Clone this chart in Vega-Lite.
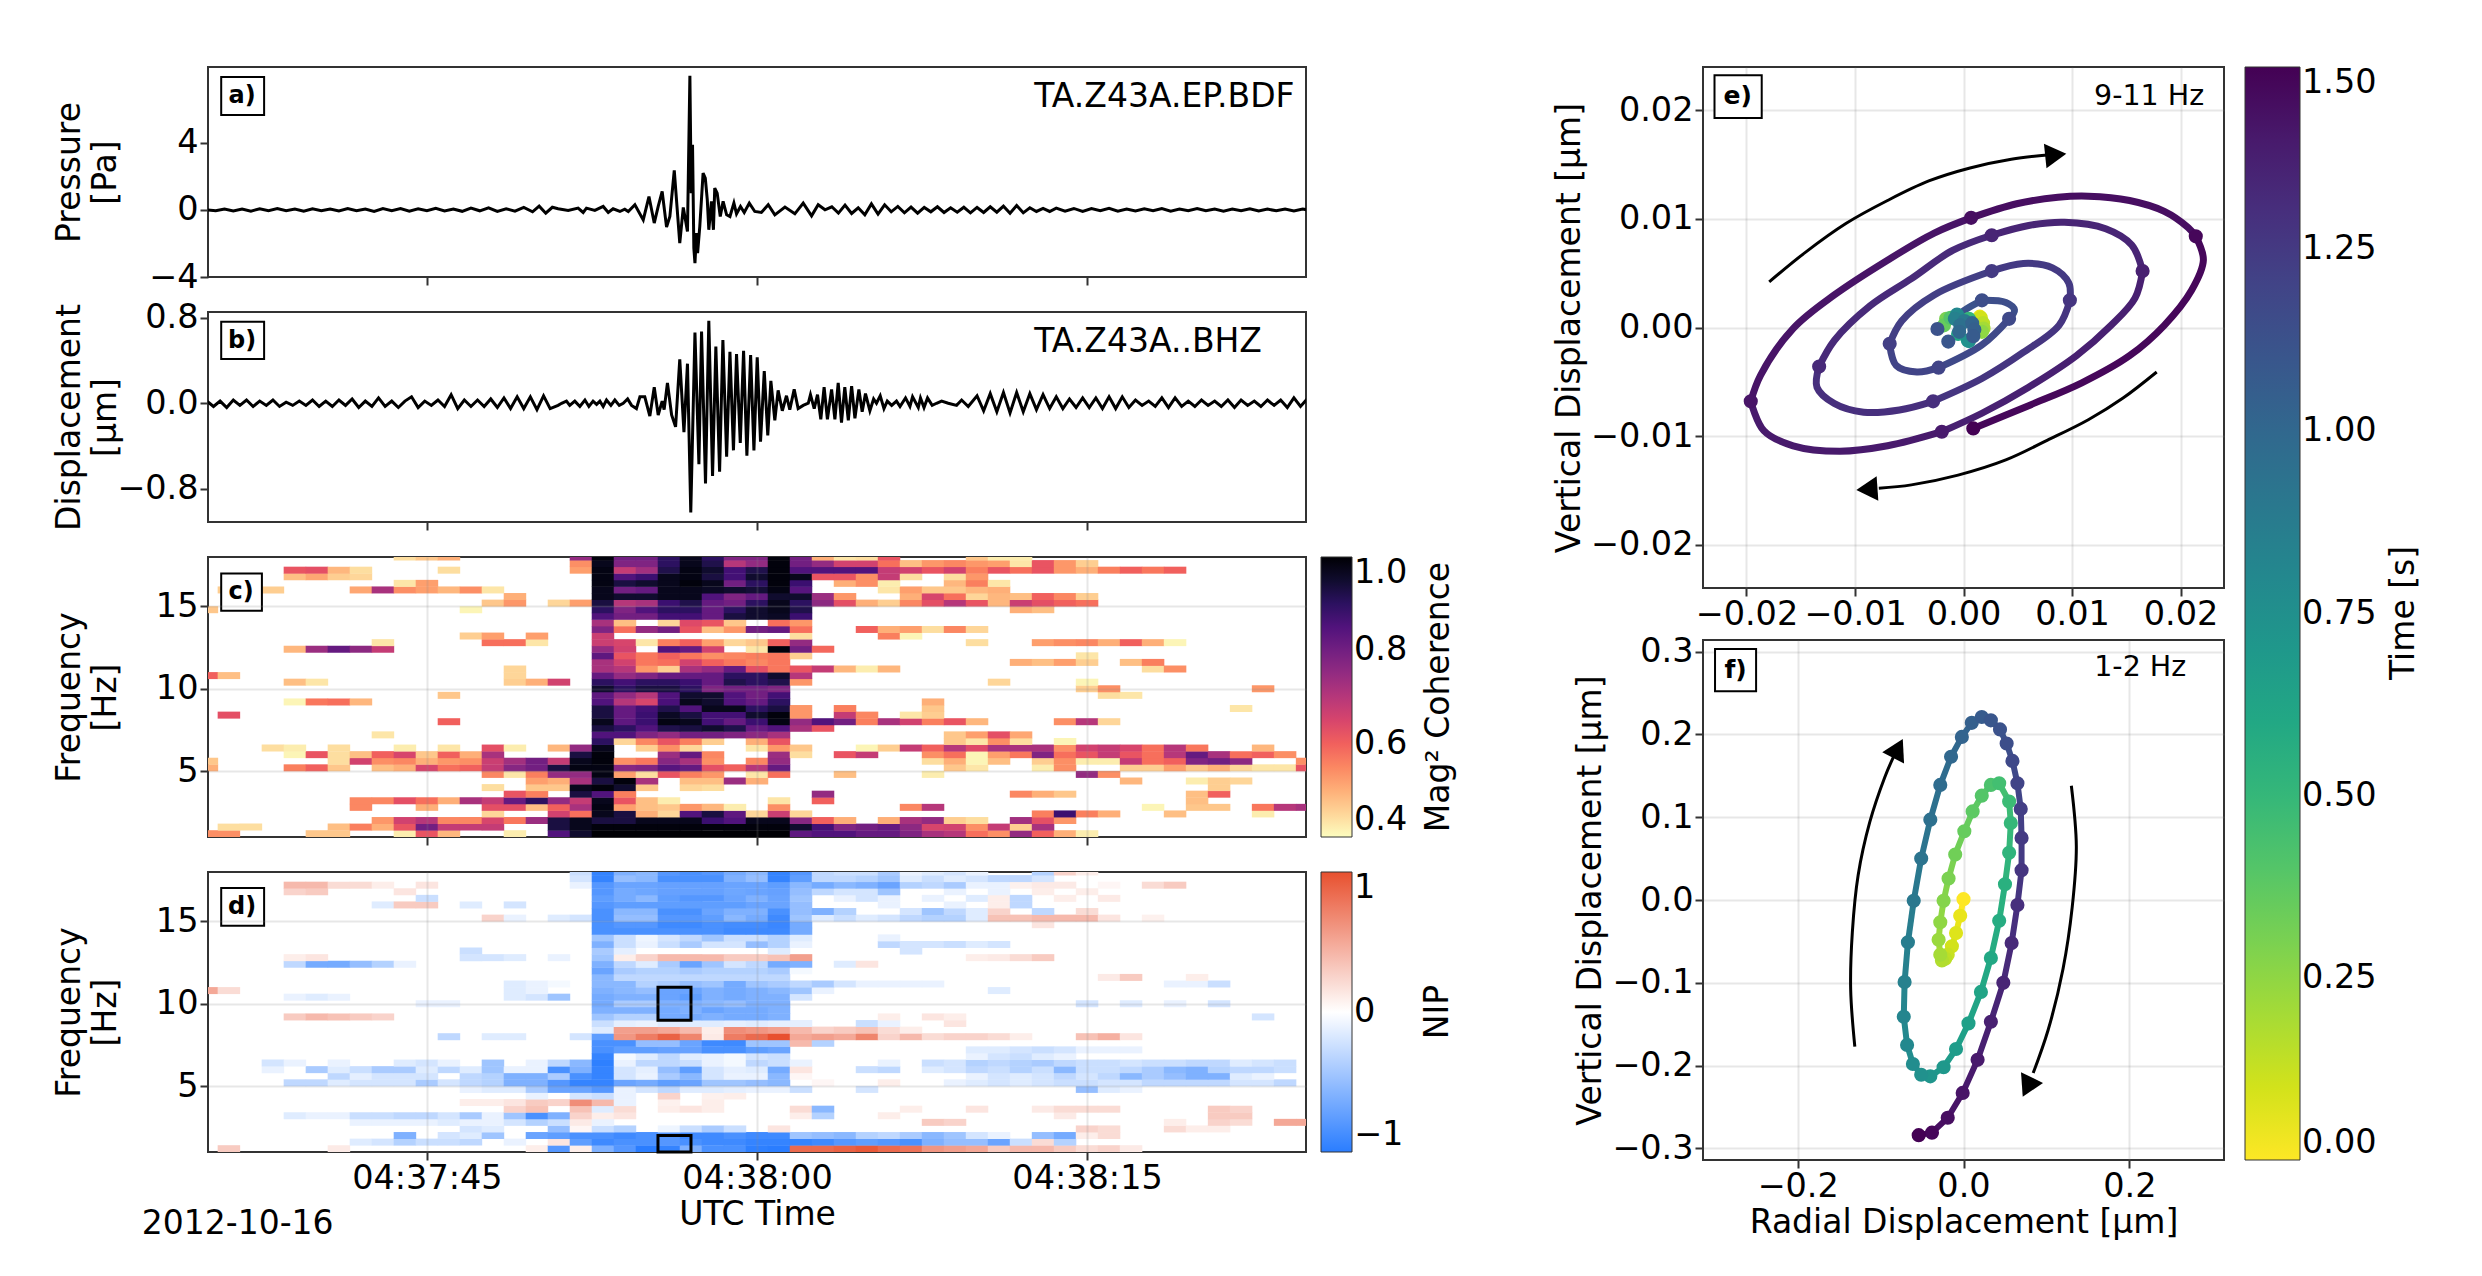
{"$schema":"https://vega.github.io/schema/vega-lite/v6.1.0.json","background":"white","padding":{"left":52,"top":66,"right":0,"bottom":0},"bounds":"flush","spacing":1495,"resolve":{"scale":{"color":"independent"}},
"config":{"font":"DejaVu Sans","view":{"stroke":"#333","strokeWidth":2},"axis":{"labelFontSize":33.5,"titleFontSize":33,"titleFontWeight":"normal","tickSize":8,"tickWidth":2,"tickColor":"#333","domain":false,"labelColor":"black","labelFlush":false,"labelOverlap":false,"titleLineHeight":36,"grid":false,"gridColor":"#888","gridOpacity":0.2,"gridWidth":2},"legend":{"labelFontSize":33.5,"gradientStrokeColor":"#333","gradientStrokeWidth":1,"direction":"vertical","labelOffset":14,"labelOverlap":false}},
"datasets":{
"coh":[
{"t":35,"f":1.2,"v":0.54},{"t":36,"f":1.2,"v":0.54},{"t":40,"f":1.2,"v":0.47},{"t":41,"f":1.2,"v":0.47},{"t":44,"f":1.2,"v":0.42},{"t":45,"f":1.2,"v":0.62},{"t":46,"f":1.2,"v":0.49},{"t":49,"f":1.2,"v":0.42},{"t":51,"f":1.2,"v":0.85},{"t":52,"f":1.2,"v":0.95},{"t":53,"f":1.2,"v":1},{"t":54,"f":1.2,"v":1},{"t":55,"f":1.2,"v":1},{"t":56,"f":1.2,"v":1},{"t":57,"f":1.2,"v":1},{"t":58,"f":1.2,"v":1},{"t":59,"f":1.2,"v":1},{"t":60,"f":1.2,"v":1},{"t":61,"f":1.2,"v":1},{"t":62,"f":1.2,"v":0.83},{"t":63,"f":1.2,"v":0.85},{"t":64,"f":1.2,"v":0.85},{"t":65,"f":1.2,"v":0.82},{"t":66,"f":1.2,"v":0.82},{"t":67,"f":1.2,"v":0.78},{"t":68,"f":1.2,"v":0.72},{"t":69,"f":1.2,"v":0.7},{"t":70,"f":1.2,"v":0.58},{"t":71,"f":1.2,"v":0.54},{"t":72,"f":1.2,"v":0.75},{"t":73,"f":1.2,"v":0.6},{"t":74,"f":1.2,"v":0.5},{"t":75,"f":1.2,"v":0.42},
{"t":36,"f":1.6,"v":0.44},{"t":37,"f":1.6,"v":0.44},{"t":41,"f":1.6,"v":0.48},{"t":42,"f":1.6,"v":0.56},{"t":43,"f":1.6,"v":0.5},{"t":44,"f":1.6,"v":0.62},{"t":45,"f":1.6,"v":0.8},{"t":46,"f":1.6,"v":0.68},{"t":47,"f":1.6,"v":0.68},{"t":48,"f":1.6,"v":0.68},{"t":51,"f":1.6,"v":0.93},{"t":52,"f":1.6,"v":0.97},{"t":53,"f":1.6,"v":0.99},{"t":54,"f":1.6,"v":0.99},{"t":55,"f":1.6,"v":0.99},{"t":56,"f":1.6,"v":0.99},{"t":57,"f":1.6,"v":0.99},{"t":58,"f":1.6,"v":0.99},{"t":59,"f":1.6,"v":0.99},{"t":60,"f":1.6,"v":0.99},{"t":61,"f":1.6,"v":0.99},{"t":62,"f":1.6,"v":0.95},{"t":63,"f":1.6,"v":0.87},{"t":64,"f":1.6,"v":0.78},{"t":65,"f":1.6,"v":0.8},{"t":66,"f":1.6,"v":0.82},{"t":67,"f":1.6,"v":0.76},{"t":68,"f":1.6,"v":0.65},{"t":69,"f":1.6,"v":0.66},{"t":70,"f":1.6,"v":0.54},{"t":71,"f":1.6,"v":0.68},{"t":72,"f":1.6,"v":0.46},{"t":73,"f":1.6,"v":0.72},
{"t":43,"f":2,"v":0.53},{"t":44,"f":2,"v":0.66},{"t":45,"f":2,"v":0.7},{"t":46,"f":2,"v":0.55},{"t":47,"f":2,"v":0.55},{"t":48,"f":2,"v":0.65},{"t":49,"f":2,"v":0.57},{"t":50,"f":2,"v":0.74},{"t":51,"f":2,"v":0.93},{"t":52,"f":2,"v":0.97},{"t":53,"f":2,"v":0.93},{"t":54,"f":2,"v":0.93},{"t":55,"f":2,"v":0.97},{"t":56,"f":2,"v":0.97},{"t":57,"f":2,"v":0.97},{"t":58,"f":2,"v":0.88},{"t":59,"f":2,"v":0.85},{"t":60,"f":2,"v":0.97},{"t":61,"f":2,"v":0.97},{"t":62,"f":2,"v":0.77},{"t":63,"f":2,"v":0.6},{"t":64,"f":2,"v":0.5},{"t":66,"f":2,"v":0.5},{"t":67,"f":2,"v":0.72},{"t":68,"f":2,"v":0.75},{"t":69,"f":2,"v":0.46},{"t":70,"f":2,"v":0.44},{"t":72,"f":2,"v":0.73},{"t":73,"f":2,"v":0.63},{"t":74,"f":2,"v":0.53},
{"t":48,"f":2.4,"v":0.45},{"t":51,"f":2.4,"v":0.66},{"t":52,"f":2.4,"v":0.58},{"t":53,"f":2.4,"v":0.97},{"t":54,"f":2.4,"v":0.93},{"t":55,"f":2.4,"v":0.5},{"t":56,"f":2.4,"v":0.45},{"t":57,"f":2.4,"v":0.85},{"t":58,"f":2.4,"v":0.93},{"t":59,"f":2.4,"v":0.83},{"t":60,"f":2.4,"v":0.45},{"t":61,"f":2.4,"v":0.67},{"t":62,"f":2.4,"v":0.45},{"t":73,"f":2.4,"v":0.56},{"t":74,"f":2.4,"v":0.88},{"t":75,"f":2.4,"v":0.56},{"t":76,"f":2.4,"v":0.5},{"t":79,"f":2.4,"v":0.48},{"t":83,"f":2.4,"v":0.42},
{"t":42,"f":2.8,"v":0.55},{"t":45,"f":2.8,"v":0.5},{"t":48,"f":2.8,"v":0.63},{"t":49,"f":2.8,"v":0.63},{"t":50,"f":2.8,"v":0.48},{"t":51,"f":2.8,"v":0.6},{"t":52,"f":2.8,"v":0.72},{"t":53,"f":2.8,"v":0.98},{"t":54,"f":2.8,"v":0.52},{"t":55,"f":2.8,"v":0.48},{"t":56,"f":2.8,"v":0.47},{"t":57,"f":2.8,"v":0.53},{"t":58,"f":2.8,"v":0.49},{"t":59,"f":2.8,"v":0.42},{"t":61,"f":2.8,"v":0.54},{"t":67,"f":2.8,"v":0.55},{"t":68,"f":2.8,"v":0.7},{"t":78,"f":2.8,"v":0.41},{"t":80,"f":2.8,"v":0.47},{"t":81,"f":2.8,"v":0.47},{"t":83,"f":2.8,"v":0.57},{"t":84,"f":2.8,"v":0.7},{"t":85,"f":2.8,"v":0.72},
{"t":42,"f":3.2,"v":0.55},{"t":43,"f":3.2,"v":0.55},{"t":44,"f":3.2,"v":0.63},{"t":45,"f":3.2,"v":0.58},{"t":46,"f":3.2,"v":0.5},{"t":47,"f":3.2,"v":0.72},{"t":48,"f":3.2,"v":0.68},{"t":49,"f":3.2,"v":0.82},{"t":50,"f":3.2,"v":0.9},{"t":51,"f":3.2,"v":0.75},{"t":52,"f":3.2,"v":0.68},{"t":53,"f":3.2,"v":0.97},{"t":54,"f":3.2,"v":0.62},{"t":55,"f":3.2,"v":0.48},{"t":56,"f":3.2,"v":0.42},{"t":61,"f":3.2,"v":0.43},{"t":63,"f":3.2,"v":0.6},{"t":80,"f":3.2,"v":0.48},
{"t":49,"f":3.6,"v":0.62},{"t":50,"f":3.6,"v":0.56},{"t":52,"f":3.6,"v":0.93},{"t":53,"f":3.6,"v":0.85},{"t":54,"f":3.6,"v":0.56},{"t":63,"f":3.6,"v":0.75},{"t":72,"f":3.6,"v":0.55},{"t":73,"f":3.6,"v":0.5},{"t":74,"f":3.6,"v":0.47},{"t":80,"f":3.6,"v":0.48},{"t":81,"f":3.6,"v":0.6},
{"t":48,"f":4,"v":0.44},{"t":50,"f":4,"v":0.47},{"t":51,"f":4,"v":0.47},{"t":52,"f":4,"v":0.97},{"t":53,"f":4,"v":0.99},{"t":54,"f":4,"v":0.95},{"t":55,"f":4,"v":0.47},{"t":57,"f":4,"v":0.45},{"t":58,"f":4,"v":0.44},{"t":81,"f":4,"v":0.46},
{"t":50,"f":4.4,"v":0.52},{"t":51,"f":4.4,"v":0.5},{"t":52,"f":4.4,"v":0.72},{"t":53,"f":4.4,"v":0.93},{"t":54,"f":4.4,"v":0.99},{"t":55,"f":4.4,"v":0.72},{"t":57,"f":4.4,"v":0.48},{"t":58,"f":4.4,"v":0.48},{"t":59,"f":4.4,"v":0.74},{"t":60,"f":4.4,"v":0.5},{"t":77,"f":4.4,"v":0.49},{"t":80,"f":4.4,"v":0.42},{"t":81,"f":4.4,"v":0.46},{"t":82,"f":4.4,"v":0.45},
{"t":48,"f":4.8,"v":0.55},{"t":49,"f":4.8,"v":0.43},{"t":50,"f":4.8,"v":0.56},{"t":51,"f":4.8,"v":0.75},{"t":52,"f":4.8,"v":0.75},{"t":53,"f":4.8,"v":0.98},{"t":54,"f":4.8,"v":0.52},{"t":55,"f":4.8,"v":0.44},{"t":56,"f":4.8,"v":0.62},{"t":57,"f":4.8,"v":0.56},{"t":58,"f":4.8,"v":0.53},{"t":60,"f":4.8,"v":0.43},{"t":61,"f":4.8,"v":0.58},{"t":64,"f":4.8,"v":0.48},{"t":68,"f":4.8,"v":0.42},{"t":75,"f":4.8,"v":0.75},{"t":76,"f":4.8,"v":0.54},
{"t":35,"f":5.2,"v":0.5},{"t":39,"f":5.2,"v":0.56},{"t":40,"f":5.2,"v":0.6},{"t":41,"f":5.2,"v":0.47},{"t":43,"f":5.2,"v":0.48},{"t":44,"f":5.2,"v":0.5},{"t":45,"f":5.2,"v":0.65},{"t":46,"f":5.2,"v":0.58},{"t":47,"f":5.2,"v":0.6},{"t":48,"f":5.2,"v":0.68},{"t":49,"f":5.2,"v":0.77},{"t":50,"f":5.2,"v":0.8},{"t":51,"f":5.2,"v":0.93},{"t":52,"f":5.2,"v":0.98},{"t":53,"f":5.2,"v":0.98},{"t":54,"f":5.2,"v":0.77},{"t":55,"f":5.2,"v":0.78},{"t":56,"f":5.2,"v":0.84},{"t":57,"f":5.2,"v":0.82},{"t":58,"f":5.2,"v":0.63},{"t":59,"f":5.2,"v":0.6},{"t":60,"f":5.2,"v":0.7},{"t":61,"f":5.2,"v":0.82},{"t":69,"f":5.2,"v":0.47},{"t":70,"f":5.2,"v":0.43},{"t":73,"f":5.2,"v":0.42},{"t":74,"f":5.2,"v":0.54},{"t":77,"f":5.2,"v":0.46},{"t":78,"f":5.2,"v":0.46},{"t":79,"f":5.2,"v":0.52},{"t":80,"f":5.2,"v":0.47},{"t":81,"f":5.2,"v":0.5},{"t":82,"f":5.2,"v":0.45},{"t":83,"f":5.2,"v":0.43},{"t":84,"f":5.2,"v":0.43},{"t":85,"f":5.2,"v":0.62},
{"t":35,"f":5.6,"v":0.47},{"t":41,"f":5.6,"v":0.44},{"t":42,"f":5.6,"v":0.66},{"t":43,"f":5.6,"v":0.54},{"t":44,"f":5.6,"v":0.55},{"t":45,"f":5.6,"v":0.5},{"t":46,"f":5.6,"v":0.53},{"t":47,"f":5.6,"v":0.54},{"t":48,"f":5.6,"v":0.67},{"t":49,"f":5.6,"v":0.73},{"t":50,"f":5.6,"v":0.8},{"t":51,"f":5.6,"v":0.68},{"t":52,"f":5.6,"v":0.97},{"t":53,"f":5.6,"v":0.99},{"t":54,"f":5.6,"v":0.54},{"t":55,"f":5.6,"v":0.57},{"t":56,"f":5.6,"v":0.77},{"t":57,"f":5.6,"v":0.72},{"t":58,"f":5.6,"v":0.54},{"t":60,"f":5.6,"v":0.55},{"t":61,"f":5.6,"v":0.75},{"t":68,"f":5.6,"v":0.44},{"t":69,"f":5.6,"v":0.5},{"t":70,"f":5.6,"v":0.41},{"t":71,"f":5.6,"v":0.48},{"t":73,"f":5.6,"v":0.46},{"t":74,"f":5.6,"v":0.54},{"t":75,"f":5.6,"v":0.42},{"t":76,"f":5.6,"v":0.42},{"t":77,"f":5.6,"v":0.68},{"t":78,"f":5.6,"v":0.58},{"t":79,"f":5.6,"v":0.6},{"t":80,"f":5.6,"v":0.78},{"t":81,"f":5.6,"v":0.8},{"t":82,"f":5.6,"v":0.76},{"t":85,"f":5.6,"v":0.54},
{"t":39,"f":6,"v":0.41},{"t":40,"f":6,"v":0.62},{"t":41,"f":6,"v":0.44},{"t":42,"f":6,"v":0.48},{"t":43,"f":6,"v":0.6},{"t":44,"f":6,"v":0.65},{"t":45,"f":6,"v":0.47},{"t":46,"f":6,"v":0.6},{"t":47,"f":6,"v":0.5},{"t":48,"f":6,"v":0.72},{"t":52,"f":6,"v":0.93},{"t":53,"f":6,"v":0.99},{"t":56,"f":6,"v":0.74},{"t":57,"f":6,"v":0.82},{"t":58,"f":6,"v":0.55},{"t":61,"f":6,"v":0.74},{"t":62,"f":6,"v":0.44},{"t":64,"f":6,"v":0.62},{"t":65,"f":6,"v":0.68},{"t":68,"f":6,"v":0.54},{"t":69,"f":6,"v":0.58},{"t":70,"f":6,"v":0.41},{"t":71,"f":6,"v":0.52},{"t":72,"f":6,"v":0.57},{"t":73,"f":6,"v":0.78},{"t":74,"f":6,"v":0.58},{"t":75,"f":6,"v":0.62},{"t":76,"f":6,"v":0.68},{"t":77,"f":6,"v":0.62},{"t":78,"f":6,"v":0.58},{"t":79,"f":6,"v":0.7},{"t":80,"f":6,"v":0.82},{"t":81,"f":6,"v":0.72},{"t":82,"f":6,"v":0.58},{"t":83,"f":6,"v":0.6},{"t":84,"f":6,"v":0.54},
{"t":38,"f":6.4,"v":0.44},{"t":39,"f":6.4,"v":0.42},{"t":41,"f":6.4,"v":0.44},{"t":44,"f":6.4,"v":0.42},{"t":46,"f":6.4,"v":0.43},{"t":48,"f":6.4,"v":0.63},{"t":49,"f":6.4,"v":0.42},{"t":51,"f":6.4,"v":0.49},{"t":52,"f":6.4,"v":0.75},{"t":53,"f":6.4,"v":0.97},{"t":55,"f":6.4,"v":0.46},{"t":56,"f":6.4,"v":0.54},{"t":57,"f":6.4,"v":0.45},{"t":60,"f":6.4,"v":0.43},{"t":61,"f":6.4,"v":0.53},{"t":62,"f":6.4,"v":0.47},{"t":65,"f":6.4,"v":0.41},{"t":66,"f":6.4,"v":0.46},{"t":67,"f":6.4,"v":0.68},{"t":68,"f":6.4,"v":0.6},{"t":69,"f":6.4,"v":0.7},{"t":70,"f":6.4,"v":0.64},{"t":71,"f":6.4,"v":0.72},{"t":72,"f":6.4,"v":0.72},{"t":73,"f":6.4,"v":0.72},{"t":74,"f":6.4,"v":0.54},{"t":75,"f":6.4,"v":0.66},{"t":76,"f":6.4,"v":0.68},{"t":77,"f":6.4,"v":0.65},{"t":78,"f":6.4,"v":0.58},{"t":79,"f":6.4,"v":0.7},{"t":80,"f":6.4,"v":0.57},{"t":83,"f":6.4,"v":0.49},
{"t":53,"f":6.8,"v":0.9},{"t":54,"f":6.8,"v":0.45},{"t":55,"f":6.8,"v":0.55},{"t":56,"f":6.8,"v":0.62},{"t":57,"f":6.8,"v":0.56},{"t":58,"f":6.8,"v":0.46},{"t":60,"f":6.8,"v":0.5},{"t":61,"f":6.8,"v":0.62},{"t":69,"f":6.8,"v":0.47},{"t":70,"f":6.8,"v":0.43},{"t":71,"f":6.8,"v":0.54},{"t":72,"f":6.8,"v":0.44},{"t":74,"f":6.8,"v":0.41},
{"t":43,"f":7.2,"v":0.43},{"t":53,"f":7.2,"v":0.85},{"t":54,"f":7.2,"v":0.85},{"t":55,"f":7.2,"v":0.78},{"t":56,"f":7.2,"v":0.75},{"t":57,"f":7.2,"v":0.8},{"t":58,"f":7.2,"v":0.8},{"t":59,"f":7.2,"v":0.78},{"t":60,"f":7.2,"v":0.76},{"t":61,"f":7.2,"v":0.72},{"t":69,"f":7.2,"v":0.47},{"t":70,"f":7.2,"v":0.52},{"t":71,"f":7.2,"v":0.63},{"t":72,"f":7.2,"v":0.51},
{"t":53,"f":7.6,"v":0.93},{"t":54,"f":7.6,"v":0.9},{"t":55,"f":7.6,"v":0.85},{"t":56,"f":7.6,"v":0.92},{"t":57,"f":7.6,"v":0.93},{"t":58,"f":7.6,"v":0.95},{"t":59,"f":7.6,"v":0.92},{"t":60,"f":7.6,"v":0.82},{"t":61,"f":7.6,"v":0.85},{"t":62,"f":7.6,"v":0.72},{"t":63,"f":7.6,"v":0.62},
{"t":46,"f":8,"v":0.6},{"t":53,"f":8,"v":0.97},{"t":54,"f":8,"v":0.83},{"t":55,"f":8,"v":0.88},{"t":56,"f":8,"v":0.98},{"t":57,"f":8,"v":0.97},{"t":58,"f":8,"v":0.87},{"t":59,"f":8,"v":0.82},{"t":60,"f":8,"v":0.88},{"t":61,"f":8,"v":0.98},{"t":62,"f":8,"v":0.75},{"t":63,"f":8,"v":0.85},{"t":64,"f":8,"v":0.8},{"t":65,"f":8,"v":0.56},{"t":66,"f":8,"v":0.72},{"t":67,"f":8,"v":0.66},{"t":68,"f":8,"v":0.56},{"t":69,"f":8,"v":0.62},{"t":70,"f":8,"v":0.49},{"t":74,"f":8,"v":0.54},{"t":75,"f":8,"v":0.7},{"t":76,"f":8,"v":0.45},
{"t":36,"f":8.4,"v":0.63},{"t":53,"f":8.4,"v":0.93},{"t":54,"f":8.4,"v":0.82},{"t":55,"f":8.4,"v":0.88},{"t":56,"f":8.4,"v":0.96},{"t":57,"f":8.4,"v":0.93},{"t":58,"f":8.4,"v":0.87},{"t":59,"f":8.4,"v":0.87},{"t":60,"f":8.4,"v":0.95},{"t":61,"f":8.4,"v":0.99},{"t":62,"f":8.4,"v":0.53},{"t":64,"f":8.4,"v":0.68},{"t":65,"f":8.4,"v":0.55},{"t":67,"f":8.4,"v":0.43},{"t":68,"f":8.4,"v":0.46},
{"t":53,"f":8.8,"v":0.93},{"t":54,"f":8.8,"v":0.82},{"t":55,"f":8.8,"v":0.87},{"t":56,"f":8.8,"v":0.92},{"t":57,"f":8.8,"v":0.85},{"t":58,"f":8.8,"v":0.97},{"t":59,"f":8.8,"v":0.97},{"t":60,"f":8.8,"v":0.9},{"t":61,"f":8.8,"v":0.93},{"t":62,"f":8.8,"v":0.53},{"t":64,"f":8.8,"v":0.56},{"t":68,"f":8.8,"v":0.47},{"t":82,"f":8.8,"v":0.43},
{"t":39,"f":9.2,"v":0.41},{"t":40,"f":9.2,"v":0.57},{"t":41,"f":9.2,"v":0.58},{"t":42,"f":9.2,"v":0.49},{"t":53,"f":9.2,"v":0.85},{"t":54,"f":9.2,"v":0.7},{"t":55,"f":9.2,"v":0.65},{"t":56,"f":9.2,"v":0.86},{"t":57,"f":9.2,"v":0.97},{"t":58,"f":9.2,"v":0.95},{"t":59,"f":9.2,"v":0.85},{"t":60,"f":9.2,"v":0.82},{"t":61,"f":9.2,"v":0.9},{"t":68,"f":9.2,"v":0.5},
{"t":46,"f":9.6,"v":0.47},{"t":53,"f":9.6,"v":0.83},{"t":54,"f":9.6,"v":0.75},{"t":55,"f":9.6,"v":0.7},{"t":56,"f":9.6,"v":0.85},{"t":57,"f":9.6,"v":0.95},{"t":58,"f":9.6,"v":0.95},{"t":59,"f":9.6,"v":0.85},{"t":60,"f":9.6,"v":0.8},{"t":61,"f":9.6,"v":0.87},{"t":76,"f":9.6,"v":0.44},{"t":77,"f":9.6,"v":0.43},
{"t":53,"f":10,"v":0.95},{"t":54,"f":10,"v":0.9},{"t":55,"f":10,"v":0.93},{"t":56,"f":10,"v":0.93},{"t":57,"f":10,"v":0.9},{"t":58,"f":10,"v":0.78},{"t":59,"f":10,"v":0.8},{"t":60,"f":10,"v":0.8},{"t":61,"f":10,"v":0.78},{"t":75,"f":10,"v":0.46},{"t":76,"f":10,"v":0.54},{"t":83,"f":10,"v":0.53},
{"t":39,"f":10.4,"v":0.48},{"t":40,"f":10.4,"v":0.43},{"t":49,"f":10.4,"v":0.46},{"t":50,"f":10.4,"v":0.5},{"t":51,"f":10.4,"v":0.66},{"t":53,"f":10.4,"v":0.9},{"t":54,"f":10.4,"v":0.87},{"t":55,"f":10.4,"v":0.9},{"t":56,"f":10.4,"v":0.9},{"t":57,"f":10.4,"v":0.88},{"t":58,"f":10.4,"v":0.82},{"t":59,"f":10.4,"v":0.92},{"t":60,"f":10.4,"v":0.9},{"t":61,"f":10.4,"v":0.92},{"t":62,"f":10.4,"v":0.53},{"t":71,"f":10.4,"v":0.45},{"t":75,"f":10.4,"v":0.41},
{"t":35,"f":10.8,"v":0.6},{"t":36,"f":10.8,"v":0.48},{"t":49,"f":10.8,"v":0.45},{"t":53,"f":10.8,"v":0.82},{"t":54,"f":10.8,"v":0.75},{"t":55,"f":10.8,"v":0.78},{"t":56,"f":10.8,"v":0.82},{"t":57,"f":10.8,"v":0.82},{"t":58,"f":10.8,"v":0.82},{"t":59,"f":10.8,"v":0.9},{"t":60,"f":10.8,"v":0.9},{"t":61,"f":10.8,"v":0.95},{"t":62,"f":10.8,"v":0.7},
{"t":49,"f":11.2,"v":0.45},{"t":53,"f":11.2,"v":0.72},{"t":54,"f":11.2,"v":0.7},{"t":55,"f":11.2,"v":0.53},{"t":56,"f":11.2,"v":0.46},{"t":57,"f":11.2,"v":0.72},{"t":58,"f":11.2,"v":0.75},{"t":59,"f":11.2,"v":0.82},{"t":60,"f":11.2,"v":0.63},{"t":61,"f":11.2,"v":0.57},{"t":62,"f":11.2,"v":0.62},{"t":63,"f":11.2,"v":0.68},{"t":64,"f":11.2,"v":0.49},{"t":65,"f":11.2,"v":0.42},{"t":66,"f":11.2,"v":0.49},{"t":78,"f":11.2,"v":0.44},{"t":79,"f":11.2,"v":0.54},
{"t":53,"f":11.6,"v":0.72},{"t":54,"f":11.6,"v":0.66},{"t":55,"f":11.6,"v":0.57},{"t":56,"f":11.6,"v":0.58},{"t":57,"f":11.6,"v":0.66},{"t":58,"f":11.6,"v":0.6},{"t":59,"f":11.6,"v":0.57},{"t":60,"f":11.6,"v":0.55},{"t":61,"f":11.6,"v":0.57},{"t":72,"f":11.6,"v":0.5},{"t":73,"f":11.6,"v":0.48},{"t":74,"f":11.6,"v":0.52},{"t":75,"f":11.6,"v":0.46},{"t":77,"f":11.6,"v":0.48},{"t":78,"f":11.6,"v":0.56},
{"t":53,"f":12,"v":0.83},{"t":54,"f":12,"v":0.62},{"t":55,"f":12,"v":0.57},{"t":56,"f":12,"v":0.6},{"t":57,"f":12,"v":0.57},{"t":58,"f":12,"v":0.54},{"t":59,"f":12,"v":0.55},{"t":60,"f":12,"v":0.56},{"t":61,"f":12,"v":0.57},{"t":62,"f":12,"v":0.46},{"t":75,"f":12,"v":0.43},
{"t":39,"f":12.4,"v":0.49},{"t":40,"f":12.4,"v":0.74},{"t":41,"f":12.4,"v":0.82},{"t":42,"f":12.4,"v":0.76},{"t":43,"f":12.4,"v":0.68},{"t":53,"f":12.4,"v":0.75},{"t":54,"f":12.4,"v":0.66},{"t":56,"f":12.4,"v":0.85},{"t":57,"f":12.4,"v":0.82},{"t":58,"f":12.4,"v":0.66},{"t":60,"f":12.4,"v":0.43},{"t":61,"f":12.4,"v":0.99},{"t":62,"f":12.4,"v":0.8},{"t":63,"f":12.4,"v":0.59},
{"t":43,"f":12.8,"v":0.43},{"t":48,"f":12.8,"v":0.58},{"t":49,"f":12.8,"v":0.58},{"t":50,"f":12.8,"v":0.43},{"t":53,"f":12.8,"v":0.67},{"t":54,"f":12.8,"v":0.65},{"t":55,"f":12.8,"v":0.43},{"t":56,"f":12.8,"v":0.56},{"t":57,"f":12.8,"v":0.6},{"t":58,"f":12.8,"v":0.52},{"t":59,"f":12.8,"v":0.45},{"t":60,"f":12.8,"v":0.47},{"t":61,"f":12.8,"v":0.6},{"t":62,"f":12.8,"v":0.75},{"t":70,"f":12.8,"v":0.44},{"t":73,"f":12.8,"v":0.52},{"t":74,"f":12.8,"v":0.54},{"t":75,"f":12.8,"v":0.55},{"t":76,"f":12.8,"v":0.5},{"t":77,"f":12.8,"v":0.6},{"t":78,"f":12.8,"v":0.5},{"t":79,"f":12.8,"v":0.41},
{"t":47,"f":13.2,"v":0.46},{"t":48,"f":13.2,"v":0.52},{"t":50,"f":13.2,"v":0.52},{"t":53,"f":13.2,"v":0.67},{"t":62,"f":13.2,"v":0.44},{"t":66,"f":13.2,"v":0.56},{"t":67,"f":13.2,"v":0.41},
{"t":53,"f":13.6,"v":0.78},{"t":54,"f":13.6,"v":0.58},{"t":55,"f":13.6,"v":0.75},{"t":56,"f":13.6,"v":0.8},{"t":57,"f":13.6,"v":0.62},{"t":58,"f":13.6,"v":0.48},{"t":59,"f":13.6,"v":0.53},{"t":60,"f":13.6,"v":0.8},{"t":61,"f":13.6,"v":0.82},{"t":62,"f":13.6,"v":0.58},{"t":65,"f":13.6,"v":0.6},{"t":66,"f":13.6,"v":0.5},{"t":67,"f":13.6,"v":0.52},{"t":68,"f":13.6,"v":0.44},{"t":69,"f":13.6,"v":0.55},{"t":70,"f":13.6,"v":0.45},
{"t":53,"f":14,"v":0.72},{"t":54,"f":14,"v":0.48},{"t":56,"f":14,"v":0.45},{"t":57,"f":14,"v":0.64},{"t":58,"f":14,"v":0.62},{"t":59,"f":14,"v":0.47},{"t":61,"f":14,"v":0.58},{"t":62,"f":14,"v":0.53},
{"t":53,"f":14.4,"v":0.85},{"t":54,"f":14.4,"v":0.8},{"t":55,"f":14.4,"v":0.8},{"t":56,"f":14.4,"v":0.87},{"t":57,"f":14.4,"v":0.87},{"t":58,"f":14.4,"v":0.82},{"t":59,"f":14.4,"v":0.93},{"t":60,"f":14.4,"v":0.95},{"t":61,"f":14.4,"v":0.96},{"t":62,"f":14.4,"v":0.88},
{"t":35,"f":14.8,"v":0.47},{"t":47,"f":14.8,"v":0.41},{"t":53,"f":14.8,"v":0.9},{"t":54,"f":14.8,"v":0.78},{"t":55,"f":14.8,"v":0.85},{"t":56,"f":14.8,"v":0.9},{"t":57,"f":14.8,"v":0.9},{"t":58,"f":14.8,"v":0.82},{"t":59,"f":14.8,"v":0.9},{"t":60,"f":14.8,"v":0.95},{"t":61,"f":14.8,"v":0.97},{"t":62,"f":14.8,"v":0.92},{"t":72,"f":14.8,"v":0.5},{"t":73,"f":14.8,"v":0.48},
{"t":48,"f":15.2,"v":0.47},{"t":49,"f":15.2,"v":0.53},{"t":51,"f":15.2,"v":0.45},{"t":52,"f":15.2,"v":0.52},{"t":53,"f":15.2,"v":0.93},{"t":54,"f":15.2,"v":0.7},{"t":55,"f":15.2,"v":0.72},{"t":56,"f":15.2,"v":0.88},{"t":57,"f":15.2,"v":0.92},{"t":58,"f":15.2,"v":0.82},{"t":59,"f":15.2,"v":0.8},{"t":60,"f":15.2,"v":0.9},{"t":61,"f":15.2,"v":0.97},{"t":62,"f":15.2,"v":0.9},{"t":63,"f":15.2,"v":0.76},{"t":64,"f":15.2,"v":0.63},{"t":65,"f":15.2,"v":0.5},{"t":66,"f":15.2,"v":0.46},{"t":67,"f":15.2,"v":0.55},{"t":68,"f":15.2,"v":0.63},{"t":69,"f":15.2,"v":0.7},{"t":70,"f":15.2,"v":0.62},{"t":71,"f":15.2,"v":0.49},{"t":72,"f":15.2,"v":0.67},{"t":73,"f":15.2,"v":0.63},{"t":74,"f":15.2,"v":0.6},{"t":75,"f":15.2,"v":0.58},
{"t":49,"f":15.6,"v":0.5},{"t":53,"f":15.6,"v":0.97},{"t":54,"f":15.6,"v":0.95},{"t":55,"f":15.6,"v":0.95},{"t":56,"f":15.6,"v":0.97},{"t":57,"f":15.6,"v":0.97},{"t":58,"f":15.6,"v":0.85},{"t":59,"f":15.6,"v":0.78},{"t":60,"f":15.6,"v":0.82},{"t":61,"f":15.6,"v":0.95},{"t":62,"f":15.6,"v":0.95},{"t":63,"f":15.6,"v":0.74},{"t":64,"f":15.6,"v":0.53},{"t":67,"f":15.6,"v":0.5},{"t":68,"f":15.6,"v":0.65},{"t":69,"f":15.6,"v":0.58},{"t":70,"f":15.6,"v":0.45},{"t":71,"f":15.6,"v":0.49},{"t":72,"f":15.6,"v":0.48},{"t":73,"f":15.6,"v":0.6},{"t":74,"f":15.6,"v":0.55},{"t":75,"f":15.6,"v":0.46},
{"t":36,"f":16,"v":0.46},{"t":37,"f":16,"v":0.45},{"t":38,"f":16,"v":0.46},{"t":42,"f":16,"v":0.51},{"t":43,"f":16,"v":0.72},{"t":44,"f":16,"v":0.54},{"t":45,"f":16,"v":0.52},{"t":46,"f":16,"v":0.49},{"t":47,"f":16,"v":0.54},{"t":48,"f":16,"v":0.43},{"t":53,"f":16,"v":0.97},{"t":54,"f":16,"v":0.8},{"t":55,"f":16,"v":0.82},{"t":56,"f":16,"v":0.97},{"t":57,"f":16,"v":0.97},{"t":58,"f":16,"v":0.96},{"t":59,"f":16,"v":0.95},{"t":60,"f":16,"v":0.94},{"t":61,"f":16,"v":0.98},{"t":62,"f":16,"v":0.84},{"t":66,"f":16,"v":0.43},{"t":67,"f":16,"v":0.52},{"t":68,"f":16,"v":0.47},{"t":69,"f":16,"v":0.47},{"t":70,"f":16,"v":0.49},{"t":71,"f":16,"v":0.5},
{"t":44,"f":16.4,"v":0.43},{"t":45,"f":16.4,"v":0.52},{"t":53,"f":16.4,"v":0.98},{"t":54,"f":16.4,"v":0.93},{"t":55,"f":16.4,"v":0.95},{"t":56,"f":16.4,"v":0.97},{"t":57,"f":16.4,"v":0.99},{"t":58,"f":16.4,"v":0.97},{"t":59,"f":16.4,"v":0.8},{"t":60,"f":16.4,"v":0.9},{"t":61,"f":16.4,"v":0.99},{"t":62,"f":16.4,"v":0.88},{"t":64,"f":16.4,"v":0.5},{"t":65,"f":16.4,"v":0.54},{"t":66,"f":16.4,"v":0.42},{"t":69,"f":16.4,"v":0.49},{"t":70,"f":16.4,"v":0.56},{"t":71,"f":16.4,"v":0.43},
{"t":39,"f":16.8,"v":0.48},{"t":40,"f":16.8,"v":0.51},{"t":41,"f":16.8,"v":0.46},{"t":42,"f":16.8,"v":0.45},{"t":53,"f":16.8,"v":0.98},{"t":54,"f":16.8,"v":0.85},{"t":55,"f":16.8,"v":0.88},{"t":56,"f":16.8,"v":0.97},{"t":57,"f":16.8,"v":0.98},{"t":58,"f":16.8,"v":0.93},{"t":59,"f":16.8,"v":0.87},{"t":60,"f":16.8,"v":0.95},{"t":61,"f":16.8,"v":0.99},{"t":62,"f":16.8,"v":0.97},{"t":63,"f":16.8,"v":0.62},{"t":64,"f":16.8,"v":0.62},{"t":65,"f":16.8,"v":0.54},{"t":66,"f":16.8,"v":0.68},{"t":67,"f":16.8,"v":0.44},{"t":69,"f":16.8,"v":0.44},{"t":70,"f":16.8,"v":0.53},
{"t":39,"f":17.2,"v":0.62},{"t":40,"f":17.2,"v":0.63},{"t":41,"f":17.2,"v":0.49},{"t":42,"f":17.2,"v":0.44},{"t":46,"f":17.2,"v":0.44},{"t":52,"f":17.2,"v":0.52},{"t":53,"f":17.2,"v":0.98},{"t":54,"f":17.2,"v":0.68},{"t":55,"f":17.2,"v":0.73},{"t":56,"f":17.2,"v":0.92},{"t":57,"f":17.2,"v":0.98},{"t":58,"f":17.2,"v":0.95},{"t":59,"f":17.2,"v":0.87},{"t":60,"f":17.2,"v":0.92},{"t":61,"f":17.2,"v":0.99},{"t":62,"f":17.2,"v":0.85},{"t":63,"f":17.2,"v":0.85},{"t":64,"f":17.2,"v":0.85},{"t":65,"f":17.2,"v":0.85},{"t":66,"f":17.2,"v":0.68},{"t":67,"f":17.2,"v":0.66},{"t":68,"f":17.2,"v":0.62},{"t":69,"f":17.2,"v":0.66},{"t":70,"f":17.2,"v":0.56},{"t":71,"f":17.2,"v":0.62},{"t":72,"f":17.2,"v":0.58},{"t":73,"f":17.2,"v":0.62},{"t":74,"f":17.2,"v":0.53},{"t":75,"f":17.2,"v":0.5},{"t":76,"f":17.2,"v":0.56},{"t":77,"f":17.2,"v":0.6},{"t":78,"f":17.2,"v":0.57},{"t":79,"f":17.2,"v":0.6},
{"t":52,"f":17.6,"v":0.54},{"t":53,"f":17.6,"v":0.97},{"t":54,"f":17.6,"v":0.78},{"t":55,"f":17.6,"v":0.78},{"t":56,"f":17.6,"v":0.9},{"t":57,"f":17.6,"v":0.97},{"t":58,"f":17.6,"v":0.92},{"t":59,"f":17.6,"v":0.7},{"t":60,"f":17.6,"v":0.75},{"t":61,"f":17.6,"v":0.99},{"t":62,"f":17.6,"v":0.8},{"t":63,"f":17.6,"v":0.75},{"t":64,"f":17.6,"v":0.66},{"t":65,"f":17.6,"v":0.66},{"t":66,"f":17.6,"v":0.58},{"t":67,"f":17.6,"v":0.48},{"t":68,"f":17.6,"v":0.53},{"t":69,"f":17.6,"v":0.55},{"t":70,"f":17.6,"v":0.53},{"t":71,"f":17.6,"v":0.52},{"t":72,"f":17.6,"v":0.43},{"t":73,"f":17.6,"v":0.62},{"t":74,"f":17.6,"v":0.53},{"t":75,"f":17.6,"v":0.46},
{"t":44,"f":18,"v":0.44},{"t":45,"f":18,"v":0.47},{"t":46,"f":18,"v":0.5},{"t":52,"f":18,"v":0.75},{"t":53,"f":18,"v":0.99},{"t":54,"f":18,"v":0.8},{"t":55,"f":18,"v":0.8},{"t":56,"f":18,"v":0.9},{"t":57,"f":18,"v":0.97},{"t":58,"f":18,"v":0.9},{"t":59,"f":18,"v":0.78},{"t":60,"f":18,"v":0.78},{"t":61,"f":18,"v":0.99},{"t":62,"f":18,"v":0.8},{"t":63,"f":18,"v":0.5},{"t":64,"f":18,"v":0.43},{"t":65,"f":18,"v":0.44},{"t":66,"f":18,"v":0.62},{"t":70,"f":18,"v":0.47},{"t":71,"f":18,"v":0.42},{"t":72,"f":18,"v":0.42}],
"nip":[
{"t":36,"f":1.2,"v":0.3},{"t":41,"f":1.2,"v":0.12},{"t":50,"f":1.2,"v":0.1},{"t":51,"f":1.2,"v":-0.8},{"t":52,"f":1.2,"v":0.1},{"t":53,"f":1.2,"v":-0.6},{"t":54,"f":1.2,"v":-0.8},{"t":55,"f":1.2,"v":-1},{"t":56,"f":1.2,"v":-0.95},{"t":57,"f":1.2,"v":-0.6},{"t":58,"f":1.2,"v":-0.85},{"t":59,"f":1.2,"v":-0.85},{"t":60,"f":1.2,"v":-0.98},{"t":61,"f":1.2,"v":-1},{"t":62,"f":1.2,"v":0.85},{"t":63,"f":1.2,"v":0.85},{"t":64,"f":1.2,"v":0.9},{"t":65,"f":1.2,"v":0.95},{"t":66,"f":1.2,"v":0.85},{"t":67,"f":1.2,"v":0.8},{"t":68,"f":1.2,"v":0.6},{"t":69,"f":1.2,"v":0.55},{"t":70,"f":1.2,"v":0.5},{"t":71,"f":1.2,"v":0.3},{"t":72,"f":1.2,"v":0.4},{"t":73,"f":1.2,"v":0.4},{"t":74,"f":1.2,"v":0.3},{"t":75,"f":1.2,"v":0.2},{"t":76,"f":1.2,"v":0.25},{"t":77,"f":1.2,"v":0.12},
{"t":42,"f":1.6,"v":-0.15},{"t":43,"f":1.6,"v":-0.2},{"t":44,"f":1.6,"v":-0.35},{"t":45,"f":1.6,"v":-0.25},{"t":46,"f":1.6,"v":-0.25},{"t":47,"f":1.6,"v":-0.3},{"t":49,"f":1.6,"v":-0.1},{"t":51,"f":1.6,"v":0.15},{"t":52,"f":1.6,"v":-0.75},{"t":53,"f":1.6,"v":-0.9},{"t":54,"f":1.6,"v":-0.85},{"t":55,"f":1.6,"v":-0.85},{"t":56,"f":1.6,"v":-0.8},{"t":57,"f":1.6,"v":-0.85},{"t":58,"f":1.6,"v":-0.9},{"t":59,"f":1.6,"v":-0.9},{"t":60,"f":1.6,"v":-0.95},{"t":61,"f":1.6,"v":-0.95},{"t":62,"f":1.6,"v":-0.95},{"t":63,"f":1.6,"v":-0.9},{"t":64,"f":1.6,"v":-0.8},{"t":65,"f":1.6,"v":-0.75},{"t":66,"f":1.6,"v":-0.8},{"t":67,"f":1.6,"v":-0.85},{"t":68,"f":1.6,"v":-0.6},{"t":69,"f":1.6,"v":-0.5},{"t":70,"f":1.6,"v":-0.5},{"t":71,"f":1.6,"v":-0.7},{"t":72,"f":1.6,"v":-0.25},{"t":73,"f":1.6,"v":0.2},{"t":74,"f":1.6,"v":-0.35},
{"t":44,"f":2,"v":-0.6},{"t":46,"f":2,"v":-0.2},{"t":47,"f":2,"v":-0.15},{"t":48,"f":2,"v":-0.45},{"t":50,"f":2,"v":-0.7},{"t":51,"f":2,"v":-0.75},{"t":52,"f":2,"v":-0.85},{"t":53,"f":2,"v":-0.85},{"t":54,"f":2,"v":-0.9},{"t":55,"f":2,"v":-0.85},{"t":56,"f":2,"v":-0.8},{"t":57,"f":2,"v":-0.9},{"t":58,"f":2,"v":-0.9},{"t":59,"f":2,"v":-0.85},{"t":60,"f":2,"v":-0.9},{"t":61,"f":2,"v":-0.9},{"t":62,"f":2,"v":-0.45},{"t":63,"f":2,"v":-0.5},{"t":64,"f":2,"v":-0.55},{"t":65,"f":2,"v":-0.35},{"t":66,"f":2,"v":-0.3},{"t":67,"f":2,"v":-0.4},{"t":68,"f":2,"v":-0.55},{"t":69,"f":2,"v":-0.45},{"t":70,"f":2,"v":-0.2},{"t":71,"f":2,"v":-0.1},{"t":73,"f":2,"v":-0.5},{"t":74,"f":2,"v":-0.65},{"t":75,"f":2,"v":0.1},{"t":76,"f":2,"v":0.2},
{"t":47,"f":2.4,"v":-0.2},{"t":48,"f":2.4,"v":-0.15},{"t":51,"f":2.4,"v":-0.5},{"t":52,"f":2.4,"v":0.05},{"t":53,"f":2.4,"v":-0.25},{"t":54,"f":2.4,"v":-0.35},{"t":56,"f":2.4,"v":-0.08},{"t":57,"f":2.4,"v":-0.25},{"t":58,"f":2.4,"v":-0.4},{"t":59,"f":2.4,"v":-0.25},{"t":61,"f":2.4,"v":0.15},{"t":75,"f":2.4,"v":0.25},{"t":76,"f":2.4,"v":0.2},{"t":79,"f":2.4,"v":0.2},{"t":80,"f":2.4,"v":0.1},{"t":81,"f":2.4,"v":0.1},
{"t":42,"f":2.8,"v":-0.1},{"t":43,"f":2.8,"v":-0.1},{"t":44,"f":2.8,"v":-0.1},{"t":45,"f":2.8,"v":-0.1},{"t":46,"f":2.8,"v":-0.15},{"t":47,"f":2.8,"v":-0.1},{"t":48,"f":2.8,"v":-0.1},{"t":49,"f":2.8,"v":-0.2},{"t":50,"f":2.8,"v":-0.35},{"t":51,"f":2.8,"v":-0.25},{"t":52,"f":2.8,"v":0.12},{"t":53,"f":2.8,"v":-0.1},{"t":68,"f":2.8,"v":0.3},{"t":69,"f":2.8,"v":0.25},{"t":79,"f":2.8,"v":0.1},{"t":81,"f":2.8,"v":0.25},{"t":82,"f":2.8,"v":0.2},{"t":84,"f":2.8,"v":0.5},{"t":85,"f":2.8,"v":0.5},
{"t":39,"f":3.2,"v":-0.15},{"t":40,"f":3.2,"v":-0.1},{"t":41,"f":3.2,"v":-0.1},{"t":42,"f":3.2,"v":-0.25},{"t":43,"f":3.2,"v":-0.25},{"t":44,"f":3.2,"v":-0.3},{"t":45,"f":3.2,"v":-0.3},{"t":46,"f":3.2,"v":-0.2},{"t":47,"f":3.2,"v":-0.4},{"t":48,"f":3.2,"v":-0.1},{"t":49,"f":3.2,"v":-0.45},{"t":50,"f":3.2,"v":-0.85},{"t":51,"f":3.2,"v":-0.6},{"t":52,"f":3.2,"v":0.25},{"t":53,"f":3.2,"v":0.1},{"t":54,"f":3.2,"v":0.15},{"t":62,"f":3.2,"v":0.1},{"t":63,"f":3.2,"v":-0.35},{"t":66,"f":3.2,"v":0.1},{"t":74,"f":3.2,"v":0.12},{"t":81,"f":3.2,"v":0.3},{"t":82,"f":3.2,"v":0.3},
{"t":49,"f":3.6,"v":0.25},{"t":50,"f":3.6,"v":0.35},{"t":52,"f":3.6,"v":0.35},{"t":53,"f":3.6,"v":-0.15},{"t":54,"f":3.6,"v":0.2},{"t":56,"f":3.6,"v":0.1},{"t":57,"f":3.6,"v":0.15},{"t":58,"f":3.6,"v":0.1},{"t":62,"f":3.6,"v":0.2},{"t":63,"f":3.6,"v":-0.55},{"t":67,"f":3.6,"v":0.1},{"t":70,"f":3.6,"v":0.15},{"t":73,"f":3.6,"v":0.12},{"t":74,"f":3.6,"v":0.2},{"t":75,"f":3.6,"v":0.2},{"t":76,"f":3.6,"v":0.2},{"t":81,"f":3.6,"v":0.3},{"t":82,"f":3.6,"v":0.25},
{"t":47,"f":4,"v":0.1},{"t":48,"f":4,"v":0.1},{"t":49,"f":4,"v":0.15},{"t":50,"f":4,"v":0.3},{"t":51,"f":4,"v":0.25},{"t":52,"f":4,"v":0.65},{"t":53,"f":4,"v":0.4},{"t":54,"f":4,"v":-0.1},{"t":56,"f":4,"v":0.08},{"t":58,"f":4,"v":0.1},
{"t":50,"f":4.4,"v":-0.1},{"t":52,"f":4.4,"v":-0.2},{"t":53,"f":4.4,"v":-0.25},{"t":54,"f":4.4,"v":-0.1},{"t":56,"f":4.4,"v":0.25},{"t":58,"f":4.4,"v":0.08},{"t":59,"f":4.4,"v":0.1},
{"t":47,"f":4.8,"v":-0.1},{"t":48,"f":4.8,"v":-0.15},{"t":49,"f":4.8,"v":-0.15},{"t":50,"f":4.8,"v":-0.4},{"t":51,"f":4.8,"v":-0.7},{"t":52,"f":4.8,"v":-0.7},{"t":53,"f":4.8,"v":-0.8},{"t":54,"f":4.8,"v":-0.1},{"t":55,"f":4.8,"v":-0.2},{"t":56,"f":4.8,"v":-0.3},{"t":57,"f":4.8,"v":-0.15},{"t":58,"f":4.8,"v":-0.15},{"t":59,"f":4.8,"v":-0.12},{"t":60,"f":4.8,"v":-0.1},{"t":61,"f":4.8,"v":-0.1},{"t":62,"f":4.8,"v":-0.25},{"t":65,"f":4.8,"v":-0.2},{"t":75,"f":4.8,"v":-0.5},{"t":76,"f":4.8,"v":-0.15},{"t":77,"f":4.8,"v":-0.1},
{"t":39,"f":5.2,"v":-0.3},{"t":40,"f":5.2,"v":-0.3},{"t":41,"f":5.2,"v":-0.15},{"t":42,"f":5.2,"v":-0.2},{"t":43,"f":5.2,"v":-0.2},{"t":44,"f":5.2,"v":-0.2},{"t":45,"f":5.2,"v":-0.4},{"t":46,"f":5.2,"v":-0.2},{"t":47,"f":5.2,"v":-0.3},{"t":48,"f":5.2,"v":-0.35},{"t":49,"f":5.2,"v":-0.6},{"t":50,"f":5.2,"v":-0.6},{"t":51,"f":5.2,"v":-0.8},{"t":52,"f":5.2,"v":-0.95},{"t":53,"f":5.2,"v":-0.95},{"t":54,"f":5.2,"v":-0.7},{"t":55,"f":5.2,"v":-0.65},{"t":56,"f":5.2,"v":-0.75},{"t":57,"f":5.2,"v":-0.7},{"t":58,"f":5.2,"v":-0.45},{"t":59,"f":5.2,"v":-0.45},{"t":60,"f":5.2,"v":-0.5},{"t":61,"f":5.2,"v":-0.55},{"t":63,"f":5.2,"v":0.05},{"t":66,"f":5.2,"v":0.1},{"t":69,"f":5.2,"v":-0.1},{"t":70,"f":5.2,"v":-0.15},{"t":71,"f":5.2,"v":-0.2},{"t":72,"f":5.2,"v":-0.15},{"t":73,"f":5.2,"v":-0.2},{"t":74,"f":5.2,"v":-0.25},{"t":75,"f":5.2,"v":-0.25},{"t":76,"f":5.2,"v":-0.2},{"t":77,"f":5.2,"v":-0.2},{"t":78,"f":5.2,"v":-0.3},{"t":79,"f":5.2,"v":-0.3},{"t":80,"f":5.2,"v":-0.3},{"t":81,"f":5.2,"v":-0.3},{"t":82,"f":5.2,"v":-0.2},{"t":83,"f":5.2,"v":-0.2},{"t":84,"f":5.2,"v":-0.3},
{"t":41,"f":5.6,"v":-0.3},{"t":42,"f":5.6,"v":-0.12},{"t":43,"f":5.6,"v":-0.2},{"t":44,"f":5.6,"v":-0.2},{"t":45,"f":5.6,"v":-0.2},{"t":47,"f":5.6,"v":-0.3},{"t":48,"f":5.6,"v":-0.35},{"t":49,"f":5.6,"v":-0.6},{"t":50,"f":5.6,"v":-0.6},{"t":51,"f":5.6,"v":-0.4},{"t":52,"f":5.6,"v":-0.85},{"t":53,"f":5.6,"v":-0.95},{"t":54,"f":5.6,"v":-0.2},{"t":55,"f":5.6,"v":-0.1},{"t":56,"f":5.6,"v":-0.4},{"t":57,"f":5.6,"v":-0.55},{"t":58,"f":5.6,"v":-0.2},{"t":59,"f":5.6,"v":-0.1},{"t":60,"f":5.6,"v":-0.1},{"t":61,"f":5.6,"v":-0.55},{"t":62,"f":5.6,"v":0.05},{"t":70,"f":5.6,"v":-0.1},{"t":71,"f":5.6,"v":-0.2},{"t":72,"f":5.6,"v":-0.15},{"t":73,"f":5.6,"v":-0.2},{"t":74,"f":5.6,"v":-0.3},{"t":75,"f":5.6,"v":-0.2},{"t":76,"f":5.6,"v":-0.3},{"t":77,"f":5.6,"v":-0.55},{"t":78,"f":5.6,"v":-0.4},{"t":79,"f":5.6,"v":-0.5},{"t":80,"f":5.6,"v":-0.6},{"t":81,"f":5.6,"v":-0.6},{"t":82,"f":5.6,"v":-0.15},{"t":83,"f":5.6,"v":-0.1},
{"t":38,"f":6,"v":-0.1},{"t":40,"f":6,"v":-0.4},{"t":41,"f":6,"v":-0.15},{"t":42,"f":6,"v":-0.25},{"t":43,"f":6,"v":-0.4},{"t":44,"f":6,"v":-0.4},{"t":45,"f":6,"v":-0.15},{"t":46,"f":6,"v":-0.3},{"t":47,"f":6,"v":-0.15},{"t":48,"f":6,"v":-0.45},{"t":49,"f":6,"v":-0.1},{"t":50,"f":6,"v":-0.1},{"t":51,"f":6,"v":-0.85},{"t":52,"f":6,"v":-0.6},{"t":53,"f":6,"v":-0.95},{"t":54,"f":6,"v":-0.2},{"t":55,"f":6,"v":-0.12},{"t":56,"f":6,"v":-0.5},{"t":57,"f":6,"v":-0.75},{"t":58,"f":6,"v":-0.2},{"t":59,"f":6,"v":-0.12},{"t":60,"f":6,"v":-0.15},{"t":61,"f":6,"v":-0.65},{"t":62,"f":6,"v":0.15},{"t":65,"f":6,"v":-0.25},{"t":66,"f":6,"v":-0.3},{"t":68,"f":6,"v":-0.15},{"t":69,"f":6,"v":-0.2},{"t":70,"f":6,"v":-0.3},{"t":71,"f":6,"v":-0.25},{"t":72,"f":6,"v":-0.35},{"t":73,"f":6,"v":-0.25},{"t":74,"f":6,"v":-0.55},{"t":75,"f":6,"v":-0.25},{"t":76,"f":6,"v":-0.25},{"t":77,"f":6,"v":-0.3},{"t":78,"f":6,"v":-0.4},{"t":79,"f":6,"v":-0.55},{"t":80,"f":6,"v":-0.6},{"t":81,"f":6,"v":-0.35},{"t":82,"f":6,"v":-0.3},{"t":83,"f":6,"v":-0.3},{"t":84,"f":6,"v":-0.25},
{"t":38,"f":6.4,"v":-0.2},{"t":39,"f":6.4,"v":-0.1},{"t":41,"f":6.4,"v":-0.1},{"t":44,"f":6.4,"v":-0.15},{"t":45,"f":6.4,"v":-0.2},{"t":46,"f":6.4,"v":-0.1},{"t":48,"f":6.4,"v":-0.45},{"t":50,"f":6.4,"v":-0.1},{"t":51,"f":6.4,"v":-0.3},{"t":52,"f":6.4,"v":-0.55},{"t":53,"f":6.4,"v":-0.98},{"t":54,"f":6.4,"v":-0.1},{"t":55,"f":6.4,"v":-0.3},{"t":56,"f":6.4,"v":-0.3},{"t":57,"f":6.4,"v":-0.25},{"t":58,"f":6.4,"v":-0.1},{"t":59,"f":6.4,"v":-0.05},{"t":60,"f":6.4,"v":-0.3},{"t":61,"f":6.4,"v":-0.25},{"t":62,"f":6.4,"v":-0.1},{"t":66,"f":6.4,"v":-0.1},{"t":68,"f":6.4,"v":-0.25},{"t":69,"f":6.4,"v":-0.2},{"t":70,"f":6.4,"v":-0.35},{"t":71,"f":6.4,"v":-0.3},{"t":72,"f":6.4,"v":-0.35},{"t":73,"f":6.4,"v":-0.4},{"t":74,"f":6.4,"v":-0.3},{"t":75,"f":6.4,"v":-0.25},{"t":76,"f":6.4,"v":-0.25},{"t":77,"f":6.4,"v":-0.2},{"t":78,"f":6.4,"v":-0.25},{"t":79,"f":6.4,"v":-0.25},{"t":80,"f":6.4,"v":-0.3},{"t":81,"f":6.4,"v":-0.3},{"t":82,"f":6.4,"v":-0.15},{"t":83,"f":6.4,"v":-0.2},{"t":84,"f":6.4,"v":-0.25},
{"t":53,"f":6.8,"v":-0.95},{"t":54,"f":6.8,"v":-0.05},{"t":55,"f":6.8,"v":-0.15},{"t":56,"f":6.8,"v":-0.3},{"t":57,"f":6.8,"v":-0.15},{"t":58,"f":6.8,"v":-0.1},{"t":59,"f":6.8,"v":-0.05},{"t":60,"f":6.8,"v":-0.2},{"t":61,"f":6.8,"v":-0.25},{"t":70,"f":6.8,"v":-0.1},{"t":71,"f":6.8,"v":-0.2},{"t":72,"f":6.8,"v":-0.25},{"t":73,"f":6.8,"v":-0.15},{"t":74,"f":6.8,"v":-0.1},
{"t":53,"f":7.2,"v":-0.85},{"t":54,"f":7.2,"v":-0.75},{"t":55,"f":7.2,"v":-0.75},{"t":56,"f":7.2,"v":-0.72},{"t":57,"f":7.2,"v":-0.72},{"t":58,"f":7.2,"v":-0.85},{"t":59,"f":7.2,"v":-0.85},{"t":60,"f":7.2,"v":-0.75},{"t":61,"f":7.2,"v":-0.7},{"t":70,"f":7.2,"v":-0.15},{"t":71,"f":7.2,"v":-0.15},{"t":72,"f":7.2,"v":-0.2},{"t":73,"f":7.2,"v":-0.25},{"t":74,"f":7.2,"v":-0.2},{"t":75,"f":7.2,"v":-0.1},{"t":76,"f":7.2,"v":-0.1},{"t":77,"f":7.2,"v":-0.1},
{"t":53,"f":7.6,"v":-0.85},{"t":54,"f":7.6,"v":-0.85},{"t":55,"f":7.6,"v":-0.5},{"t":56,"f":7.6,"v":-0.5},{"t":57,"f":7.6,"v":-0.7},{"t":58,"f":7.6,"v":-0.9},{"t":59,"f":7.6,"v":-0.9},{"t":60,"f":7.6,"v":-0.45},{"t":61,"f":7.6,"v":-0.45},{"t":62,"f":7.6,"v":0.4},{"t":63,"f":7.6,"v":-0.35},
{"t":46,"f":8,"v":-0.3},{"t":48,"f":8,"v":-0.15},{"t":49,"f":8,"v":-0.15},{"t":52,"f":8,"v":-0.2},{"t":53,"f":8,"v":-0.75},{"t":54,"f":8,"v":0.6},{"t":55,"f":8,"v":0.75},{"t":56,"f":8,"v":0.9},{"t":57,"f":8,"v":0.7},{"t":58,"f":8,"v":0.12},{"t":59,"f":8,"v":0.75},{"t":60,"f":8,"v":0.85},{"t":61,"f":8,"v":1},{"t":62,"f":8,"v":0.5},{"t":63,"f":8,"v":0.55},{"t":64,"f":8,"v":0.5},{"t":65,"f":8,"v":0.7},{"t":66,"f":8,"v":0.25},{"t":67,"f":8,"v":0.4},{"t":68,"f":8,"v":0.2},{"t":69,"f":8,"v":0.25},{"t":70,"f":8,"v":0.25},{"t":71,"f":8,"v":0.2},{"t":72,"f":8,"v":0.1},{"t":75,"f":8,"v":0.35},{"t":76,"f":8,"v":0.45},{"t":77,"f":8,"v":0.15},
{"t":53,"f":8.4,"v":-0.15},{"t":54,"f":8.4,"v":0.55},{"t":55,"f":8.4,"v":0.55},{"t":56,"f":8.4,"v":0.5},{"t":57,"f":8.4,"v":0.4},{"t":58,"f":8.4,"v":0.1},{"t":59,"f":8.4,"v":0.65},{"t":60,"f":8.4,"v":0.6},{"t":61,"f":8.4,"v":0.55},{"t":62,"f":8.4,"v":0.4},{"t":63,"f":8.4,"v":0.25},{"t":64,"f":8.4,"v":0.3},{"t":65,"f":8.4,"v":0.35},{"t":66,"f":8.4,"v":0.2},{"t":67,"f":8.4,"v":0.1},
{"t":53,"f":8.8,"v":-0.25},{"t":54,"f":8.8,"v":-0.12},{"t":55,"f":8.8,"v":-0.1},{"t":56,"f":8.8,"v":-0.15},{"t":57,"f":8.8,"v":-0.15},{"t":58,"f":8.8,"v":-0.15},{"t":59,"f":8.8,"v":-0.12},{"t":60,"f":8.8,"v":-0.15},{"t":61,"f":8.8,"v":-0.12},{"t":62,"f":8.8,"v":-0.12},{"t":65,"f":8.8,"v":-0.25},{"t":66,"f":8.8,"v":-0.1},{"t":69,"f":8.8,"v":0.15},
{"t":39,"f":9.2,"v":0.3},{"t":40,"f":9.2,"v":0.4},{"t":41,"f":9.2,"v":0.35},{"t":42,"f":9.2,"v":0.3},{"t":43,"f":9.2,"v":0.25},{"t":53,"f":9.2,"v":-0.45},{"t":54,"f":9.2,"v":-0.35},{"t":55,"f":9.2,"v":-0.35},{"t":56,"f":9.2,"v":-0.65},{"t":57,"f":9.2,"v":-0.65},{"t":58,"f":9.2,"v":-0.6},{"t":59,"f":9.2,"v":-0.65},{"t":60,"f":9.2,"v":-0.65},{"t":61,"f":9.2,"v":-0.6},{"t":66,"f":9.2,"v":0.1},{"t":68,"f":9.2,"v":0.15},{"t":69,"f":9.2,"v":0.1},{"t":83,"f":9.2,"v":-0.2},
{"t":53,"f":9.6,"v":-0.6},{"t":54,"f":9.6,"v":-0.6},{"t":55,"f":9.6,"v":-0.6},{"t":56,"f":9.6,"v":-0.65},{"t":57,"f":9.6,"v":-0.6},{"t":58,"f":9.6,"v":-0.7},{"t":59,"f":9.6,"v":-0.65},{"t":60,"f":9.6,"v":-0.65},{"t":61,"f":9.6,"v":-0.6},
{"t":45,"f":10,"v":-0.1},{"t":46,"f":10,"v":-0.1},{"t":53,"f":10,"v":-0.65},{"t":54,"f":10,"v":-0.4},{"t":55,"f":10,"v":-0.4},{"t":56,"f":10,"v":-0.6},{"t":57,"f":10,"v":-0.6},{"t":58,"f":10,"v":-0.55},{"t":59,"f":10,"v":-0.5},{"t":60,"f":10,"v":-0.6},{"t":61,"f":10,"v":-0.6},{"t":75,"f":10,"v":-0.2},{"t":77,"f":10,"v":-0.15},{"t":79,"f":10,"v":-0.1},{"t":81,"f":10,"v":-0.2},
{"t":39,"f":10.4,"v":-0.1},{"t":40,"f":10.4,"v":-0.15},{"t":41,"f":10.4,"v":-0.1},{"t":49,"f":10.4,"v":-0.15},{"t":50,"f":10.4,"v":-0.2},{"t":51,"f":10.4,"v":-0.45},{"t":53,"f":10.4,"v":-0.65},{"t":54,"f":10.4,"v":-0.6},{"t":55,"f":10.4,"v":-0.6},{"t":56,"f":10.4,"v":-0.7},{"t":57,"f":10.4,"v":-0.75},{"t":58,"f":10.4,"v":-0.6},{"t":59,"f":10.4,"v":-0.65},{"t":60,"f":10.4,"v":-0.6},{"t":61,"f":10.4,"v":-0.6},{"t":62,"f":10.4,"v":-0.2},
{"t":35,"f":10.8,"v":0.5},{"t":36,"f":10.8,"v":0.2},{"t":49,"f":10.8,"v":-0.15},{"t":50,"f":10.8,"v":-0.1},{"t":53,"f":10.8,"v":-0.6},{"t":54,"f":10.8,"v":-0.55},{"t":55,"f":10.8,"v":-0.5},{"t":56,"f":10.8,"v":-0.7},{"t":57,"f":10.8,"v":-0.7},{"t":58,"f":10.8,"v":-0.6},{"t":59,"f":10.8,"v":-0.65},{"t":60,"f":10.8,"v":-0.6},{"t":61,"f":10.8,"v":-0.55},{"t":62,"f":10.8,"v":-0.45},{"t":63,"f":10.8,"v":-0.1},{"t":71,"f":10.8,"v":-0.15},
{"t":49,"f":11.2,"v":-0.15},{"t":50,"f":11.2,"v":-0.1},{"t":51,"f":11.2,"v":-0.05},{"t":53,"f":11.2,"v":-0.55},{"t":54,"f":11.2,"v":-0.55},{"t":55,"f":11.2,"v":-0.35},{"t":56,"f":11.2,"v":-0.4},{"t":57,"f":11.2,"v":-0.5},{"t":58,"f":11.2,"v":-0.45},{"t":59,"f":11.2,"v":-0.65},{"t":60,"f":11.2,"v":-0.45},{"t":61,"f":11.2,"v":-0.4},{"t":62,"f":11.2,"v":-0.3},{"t":63,"f":11.2,"v":-0.4},{"t":64,"f":11.2,"v":-0.2},{"t":65,"f":11.2,"v":-0.1},{"t":66,"f":11.2,"v":-0.1},{"t":67,"f":11.2,"v":-0.1},{"t":68,"f":11.2,"v":-0.1},{"t":79,"f":11.2,"v":-0.1},{"t":80,"f":11.2,"v":-0.1},{"t":81,"f":11.2,"v":-0.25},
{"t":53,"f":11.6,"v":-0.55},{"t":54,"f":11.6,"v":-0.3},{"t":55,"f":11.6,"v":-0.3},{"t":56,"f":11.6,"v":-0.3},{"t":57,"f":11.6,"v":-0.3},{"t":58,"f":11.6,"v":-0.3},{"t":59,"f":11.6,"v":-0.3},{"t":60,"f":11.6,"v":-0.3},{"t":61,"f":11.6,"v":-0.3},{"t":76,"f":11.6,"v":0.12},{"t":77,"f":11.6,"v":0.3},{"t":80,"f":11.6,"v":0.1},
{"t":53,"f":12,"v":-0.7},{"t":54,"f":12,"v":-0.4},{"t":55,"f":12,"v":-0.35},{"t":56,"f":12,"v":-0.35},{"t":57,"f":12,"v":-0.4},{"t":58,"f":12,"v":-0.35},{"t":59,"f":12,"v":-0.35},{"t":60,"f":12,"v":-0.35},{"t":61,"f":12,"v":-0.4},{"t":62,"f":12,"v":-0.05},
{"t":39,"f":12.4,"v":-0.3},{"t":40,"f":12.4,"v":-0.65},{"t":41,"f":12.4,"v":-0.65},{"t":42,"f":12.4,"v":-0.5},{"t":43,"f":12.4,"v":-0.35},{"t":44,"f":12.4,"v":-0.1},{"t":53,"f":12.4,"v":-0.6},{"t":54,"f":12.4,"v":-0.3},{"t":55,"f":12.4,"v":-0.15},{"t":56,"f":12.4,"v":-0.4},{"t":57,"f":12.4,"v":-0.7},{"t":58,"f":12.4,"v":-0.45},{"t":59,"f":12.4,"v":-0.2},{"t":60,"f":12.4,"v":-0.3},{"t":61,"f":12.4,"v":-0.65},{"t":62,"f":12.4,"v":-0.6},{"t":64,"f":12.4,"v":-0.15},{"t":65,"f":12.4,"v":0.15},
{"t":39,"f":12.8,"v":0.1},{"t":40,"f":12.8,"v":0.15},{"t":47,"f":12.8,"v":-0.2},{"t":48,"f":12.8,"v":-0.2},{"t":49,"f":12.8,"v":-0.15},{"t":51,"f":12.8,"v":-0.1},{"t":53,"f":12.8,"v":-0.45},{"t":54,"f":12.8,"v":0.1},{"t":55,"f":12.8,"v":0.25},{"t":56,"f":12.8,"v":0.4},{"t":57,"f":12.8,"v":0.4},{"t":58,"f":12.8,"v":0.4},{"t":59,"f":12.8,"v":0.3},{"t":60,"f":12.8,"v":0.3},{"t":61,"f":12.8,"v":0.35},{"t":62,"f":12.8,"v":0.55},{"t":70,"f":12.8,"v":0.1},{"t":71,"f":12.8,"v":0.12},{"t":72,"f":12.8,"v":0.2},{"t":73,"f":12.8,"v":0.3},
{"t":47,"f":13.2,"v":-0.25},{"t":53,"f":13.2,"v":-0.4},{"t":54,"f":13.2,"v":-0.12},{"t":61,"f":13.2,"v":-0.15},{"t":67,"f":13.2,"v":-0.2},
{"t":53,"f":13.6,"v":-0.6},{"t":54,"f":13.6,"v":-0.25},{"t":55,"f":13.6,"v":-0.1},{"t":56,"f":13.6,"v":-0.25},{"t":57,"f":13.6,"v":-0.4},{"t":58,"f":13.6,"v":-0.2},{"t":59,"f":13.6,"v":-0.2},{"t":60,"f":13.6,"v":-0.5},{"t":61,"f":13.6,"v":-0.35},{"t":62,"f":13.6,"v":-0.1},{"t":66,"f":13.6,"v":-0.3},{"t":67,"f":13.6,"v":-0.2},{"t":68,"f":13.6,"v":-0.2},{"t":69,"f":13.6,"v":-0.25},{"t":70,"f":13.6,"v":-0.15},{"t":71,"f":13.6,"v":-0.2},
{"t":53,"f":14,"v":-0.45},{"t":54,"f":14,"v":-0.25},{"t":55,"f":14,"v":-0.08},{"t":56,"f":14,"v":-0.2},{"t":57,"f":14,"v":-0.3},{"t":58,"f":14,"v":-0.45},{"t":59,"f":14,"v":-0.25},{"t":60,"f":14,"v":-0.25},{"t":61,"f":14,"v":-0.35},{"t":62,"f":14,"v":-0.15},{"t":66,"f":14,"v":-0.1},
{"t":53,"f":14.4,"v":-0.85},{"t":54,"f":14.4,"v":-0.85},{"t":55,"f":14.4,"v":-0.85},{"t":56,"f":14.4,"v":-0.85},{"t":57,"f":14.4,"v":-0.85},{"t":58,"f":14.4,"v":-0.85},{"t":59,"f":14.4,"v":-0.9},{"t":60,"f":14.4,"v":-0.9},{"t":61,"f":14.4,"v":-0.9},{"t":62,"f":14.4,"v":-0.65},
{"t":53,"f":14.8,"v":-0.85},{"t":54,"f":14.8,"v":-0.8},{"t":55,"f":14.8,"v":-0.8},{"t":56,"f":14.8,"v":-0.9},{"t":57,"f":14.8,"v":-0.9},{"t":58,"f":14.8,"v":-0.85},{"t":59,"f":14.8,"v":-0.88},{"t":60,"f":14.8,"v":-0.88},{"t":61,"f":14.8,"v":-0.92},{"t":62,"f":14.8,"v":-0.65},{"t":73,"f":14.8,"v":0.15},
{"t":48,"f":15.2,"v":0.25},{"t":49,"f":15.2,"v":-0.1},{"t":51,"f":15.2,"v":-0.15},{"t":52,"f":15.2,"v":-0.2},{"t":53,"f":15.2,"v":-0.85},{"t":54,"f":15.2,"v":-0.5},{"t":55,"f":15.2,"v":-0.5},{"t":56,"f":15.2,"v":-0.8},{"t":57,"f":15.2,"v":-0.8},{"t":58,"f":15.2,"v":-0.75},{"t":59,"f":15.2,"v":-0.55},{"t":60,"f":15.2,"v":-0.65},{"t":61,"f":15.2,"v":-0.9},{"t":62,"f":15.2,"v":-0.45},{"t":63,"f":15.2,"v":-0.15},{"t":64,"f":15.2,"v":-0.25},{"t":65,"f":15.2,"v":-0.15},{"t":66,"f":15.2,"v":-0.2},{"t":67,"f":15.2,"v":-0.3},{"t":68,"f":15.2,"v":-0.35},{"t":69,"f":15.2,"v":-0.35},{"t":70,"f":15.2,"v":-0.15},{"t":71,"f":15.2,"v":0.35},{"t":72,"f":15.2,"v":0.35},{"t":73,"f":15.2,"v":0.4},{"t":74,"f":15.2,"v":0.4},{"t":75,"f":15.2,"v":0.4},{"t":76,"f":15.2,"v":0.15},{"t":78,"f":15.2,"v":0.08},
{"t":53,"f":15.6,"v":-0.85},{"t":54,"f":15.6,"v":-0.55},{"t":55,"f":15.6,"v":-0.55},{"t":56,"f":15.6,"v":-0.85},{"t":57,"f":15.6,"v":-0.85},{"t":58,"f":15.6,"v":-0.7},{"t":59,"f":15.6,"v":-0.6},{"t":60,"f":15.6,"v":-0.6},{"t":61,"f":15.6,"v":-0.85},{"t":62,"f":15.6,"v":-0.5},{"t":63,"f":15.6,"v":-0.6},{"t":64,"f":15.6,"v":-0.35},{"t":67,"f":15.6,"v":-0.2},{"t":68,"f":15.6,"v":-0.45},{"t":69,"f":15.6,"v":-0.3},{"t":70,"f":15.6,"v":-0.15},{"t":71,"f":15.6,"v":0.25},{"t":73,"f":15.6,"v":-0.3},{"t":75,"f":15.6,"v":0.2},
{"t":43,"f":16,"v":-0.15},{"t":44,"f":16,"v":0.3},{"t":45,"f":16,"v":0.3},{"t":47,"f":16,"v":-0.15},{"t":49,"f":16,"v":-0.2},{"t":53,"f":16,"v":-0.8},{"t":54,"f":16,"v":-0.75},{"t":55,"f":16,"v":-0.75},{"t":56,"f":16,"v":-0.75},{"t":57,"f":16,"v":-0.75},{"t":58,"f":16,"v":-0.75},{"t":59,"f":16,"v":-0.75},{"t":60,"f":16,"v":-0.7},{"t":61,"f":16,"v":-0.7},{"t":62,"f":16,"v":-0.5},{"t":66,"f":16,"v":-0.1},{"t":69,"f":16,"v":-0.1},{"t":71,"f":16,"v":0.1},{"t":72,"f":16,"v":-0.3},
{"t":45,"f":16.4,"v":-0.25},{"t":53,"f":16.4,"v":-0.75},{"t":54,"f":16.4,"v":-0.65},{"t":55,"f":16.4,"v":-0.55},{"t":56,"f":16.4,"v":-0.75},{"t":57,"f":16.4,"v":-0.8},{"t":58,"f":16.4,"v":-0.8},{"t":59,"f":16.4,"v":-0.7},{"t":60,"f":16.4,"v":-0.6},{"t":61,"f":16.4,"v":-0.7},{"t":62,"f":16.4,"v":-0.45},{"t":64,"f":16.4,"v":-0.1},{"t":65,"f":16.4,"v":-0.2},{"t":66,"f":16.4,"v":-0.1},{"t":68,"f":16.4,"v":-0.1},{"t":70,"f":16.4,"v":-0.15},{"t":71,"f":16.4,"v":0.1},{"t":72,"f":16.4,"v":-0.3},{"t":74,"f":16.4,"v":0.1},{"t":76,"f":16.4,"v":0.12},
{"t":39,"f":16.8,"v":0.25},{"t":40,"f":16.8,"v":0.3},{"t":44,"f":16.8,"v":0.15},{"t":53,"f":16.8,"v":-0.8},{"t":54,"f":16.8,"v":-0.65},{"t":55,"f":16.8,"v":-0.68},{"t":56,"f":16.8,"v":-0.72},{"t":57,"f":16.8,"v":-0.72},{"t":58,"f":16.8,"v":-0.72},{"t":59,"f":16.8,"v":-0.68},{"t":60,"f":16.8,"v":-0.7},{"t":61,"f":16.8,"v":-0.72},{"t":62,"f":16.8,"v":-0.5},{"t":63,"f":16.8,"v":-0.3},{"t":64,"f":16.8,"v":-0.2},{"t":65,"f":16.8,"v":-0.2},{"t":66,"f":16.8,"v":-0.45},{"t":69,"f":16.8,"v":-0.1},{"t":71,"f":16.8,"v":-0.1},{"t":73,"f":16.8,"v":0.1},{"t":75,"f":16.8,"v":0.1},
{"t":39,"f":17.2,"v":0.4},{"t":40,"f":17.2,"v":0.4},{"t":41,"f":17.2,"v":0.2},{"t":42,"f":17.2,"v":0.2},{"t":43,"f":17.2,"v":0.1},{"t":45,"f":17.2,"v":0.15},{"t":52,"f":17.2,"v":-0.1},{"t":53,"f":17.2,"v":-0.8},{"t":54,"f":17.2,"v":-0.7},{"t":55,"f":17.2,"v":-0.7},{"t":56,"f":17.2,"v":-0.72},{"t":57,"f":17.2,"v":-0.72},{"t":58,"f":17.2,"v":-0.72},{"t":59,"f":17.2,"v":-0.7},{"t":60,"f":17.2,"v":-0.7},{"t":61,"f":17.2,"v":-0.75},{"t":62,"f":17.2,"v":-0.55},{"t":63,"f":17.2,"v":-0.65},{"t":64,"f":17.2,"v":-0.55},{"t":65,"f":17.2,"v":-0.6},{"t":66,"f":17.2,"v":-0.7},{"t":67,"f":17.2,"v":-0.35},{"t":68,"f":17.2,"v":-0.3},{"t":69,"f":17.2,"v":-0.4},{"t":70,"f":17.2,"v":-0.1},{"t":71,"f":17.2,"v":-0.1},{"t":72,"f":17.2,"v":0.08},{"t":73,"f":17.2,"v":0.12},{"t":74,"f":17.2,"v":0.12},{"t":76,"f":17.2,"v":0.05},{"t":78,"f":17.2,"v":0.2},{"t":79,"f":17.2,"v":0.3},
{"t":52,"f":17.6,"v":-0.2},{"t":53,"f":17.6,"v":-0.95},{"t":54,"f":17.6,"v":-0.5},{"t":55,"f":17.6,"v":-0.55},{"t":56,"f":17.6,"v":-0.85},{"t":57,"f":17.6,"v":-0.85},{"t":58,"f":17.6,"v":-0.85},{"t":59,"f":17.6,"v":-0.6},{"t":60,"f":17.6,"v":-0.5},{"t":61,"f":17.6,"v":-0.95},{"t":62,"f":17.6,"v":-0.75},{"t":63,"f":17.6,"v":-0.3},{"t":64,"f":17.6,"v":-0.3},{"t":65,"f":17.6,"v":-0.35},{"t":66,"f":17.6,"v":-0.45},{"t":67,"f":17.6,"v":-0.15},{"t":68,"f":17.6,"v":-0.25},{"t":69,"f":17.6,"v":-0.15},{"t":70,"f":17.6,"v":-0.2},{"t":71,"f":17.6,"v":-0.3},{"t":72,"f":17.6,"v":-0.3},{"t":73,"f":17.6,"v":-0.2},
{"t":52,"f":18,"v":-0.25},{"t":53,"f":18,"v":-0.95},{"t":54,"f":18,"v":-0.6},{"t":55,"f":18,"v":-0.55},{"t":56,"f":18,"v":-0.8},{"t":57,"f":18,"v":-0.85},{"t":58,"f":18,"v":-0.8},{"t":59,"f":18,"v":-0.65},{"t":60,"f":18,"v":-0.55},{"t":61,"f":18,"v":-0.95},{"t":62,"f":18,"v":-0.8},{"t":63,"f":18,"v":-0.3},{"t":64,"f":18,"v":-0.25},{"t":65,"f":18,"v":-0.25},{"t":66,"f":18,"v":-0.4},{"t":67,"f":18,"v":-0.1},{"t":68,"f":18,"v":-0.15},{"t":69,"f":18,"v":-0.2},{"t":70,"f":18,"v":-0.1},{"t":73,"f":18,"v":-0.35},{"t":74,"f":18,"v":0.25},{"t":75,"f":18,"v":0.1}],
"pres":[{"t":35,"p":0},{"t":35.4,"p":-0.06},{"t":35.8,"p":0.05},{"t":36.2,"p":-0.07},{"t":36.6,"p":0.04},{"t":37,"p":-0.08},{"t":37.4,"p":0.06},{"t":37.8,"p":-0.05},{"t":38.2,"p":0.07},{"t":38.6,"p":-0.06},{"t":39,"p":0.04},{"t":39.4,"p":-0.09},{"t":39.8,"p":0.06},{"t":40.2,"p":-0.05},{"t":40.6,"p":0.05},{"t":41,"p":-0.07},{"t":41.4,"p":0.08},{"t":41.8,"p":-0.06},{"t":42.2,"p":0.05},{"t":42.6,"p":-0.1},{"t":43,"p":0.07},{"t":43.4,"p":-0.05},{"t":43.8,"p":0.08},{"t":44.2,"p":-0.08},{"t":44.6,"p":0.06},{"t":45,"p":-0.05},{"t":45.4,"p":0.09},{"t":45.8,"p":-0.07},{"t":46.2,"p":0.05},{"t":46.6,"p":-0.09},{"t":47,"p":0.1},{"t":47.4,"p":-0.06},{"t":47.8,"p":0.12},{"t":48.2,"p":-0.1},{"t":48.6,"p":0.06},{"t":49,"p":-0.08},{"t":49.4,"p":0.14},{"t":49.8,"p":-0.12},{"t":50.1,"p":0.22},{"t":50.4,"p":-0.2},{"t":50.7,"p":0.15},{"t":50.96,"p":0.06},{"t":51.42,"p":-0.04},{"t":51.87,"p":0.1},{"t":52.1,"p":-0.16},{"t":52.25,"p":0.1},{"t":52.63,"p":-0.04},{"t":53.01,"p":0.2},{"t":53.24,"p":-0.16},{"t":53.46,"p":0.06},{"t":53.77,"p":-0.1},{"t":53.99,"p":0.04},{"t":54.15,"p":-0.1},{"t":54.45,"p":0.3},{"t":54.83,"p":-0.6},{"t":55.09,"p":0.79},{"t":55.33,"p":-0.79},{"t":55.51,"p":0.2},{"t":55.69,"p":1.09},{"t":55.89,"p":-1.03},{"t":56.04,"p":-0.4},{"t":56.24,"p":2.34},{"t":56.49,"p":-1.98},{"t":56.65,"p":0.14},{"t":56.84,"p":-1.29},{"t":56.95,"p":7.98},{"t":57.01,"p":0.99},{"t":57.07,"p":3.87},{"t":57.13,"p":-2.28},{"t":57.18,"p":-3.17},{"t":57.25,"p":-1.39},{"t":57.3,"p":-2.58},{"t":57.4,"p":-0.99},{"t":57.55,"p":2.18},{"t":57.65,"p":1.88},{"t":57.74,"p":0.6},{"t":57.81,"p":-1.19},{"t":57.93,"p":0.5},{"t":58.02,"p":-1.19},{"t":58.08,"p":1.29},{"t":58.19,"p":0.99},{"t":58.33,"p":-0.4},{"t":58.46,"p":0.5},{"t":58.62,"p":-0.3},{"t":58.77,"p":-0.4},{"t":58.95,"p":0.4},{"t":59.07,"p":-0.24},{"t":59.25,"p":0.2},{"t":59.42,"p":-0.16},{"t":59.65,"p":0.4},{"t":59.9,"p":-0.1},{"t":60.2,"p":-0.16},{"t":60.51,"p":0.3},{"t":60.81,"p":-0.3},{"t":61.27,"p":0.16},{"t":61.72,"p":-0.24},{"t":62.1,"p":0.4},{"t":62.48,"p":-0.36},{"t":62.78,"p":0.3},{"t":63.09,"p":0},{"t":63.4,"p":0.18},{"t":63.7,"p":-0.2},{"t":64,"p":0.28},{"t":64.3,"p":-0.22},{"t":64.6,"p":0.12},{"t":64.9,"p":-0.3},{"t":65.2,"p":0.35},{"t":65.5,"p":-0.25},{"t":65.8,"p":0.3},{"t":66.1,"p":-0.12},{"t":66.4,"p":0.2},{"t":66.7,"p":-0.18},{"t":67,"p":0.16},{"t":67.3,"p":-0.2},{"t":67.6,"p":0.14},{"t":67.9,"p":-0.12},{"t":68.2,"p":0.18},{"t":68.5,"p":-0.16},{"t":68.8,"p":0.12},{"t":69.1,"p":-0.14},{"t":69.4,"p":0.15},{"t":69.7,"p":-0.18},{"t":70,"p":0.14},{"t":70.3,"p":-0.16},{"t":70.6,"p":0.18},{"t":70.9,"p":-0.14},{"t":71.2,"p":0.22},{"t":71.5,"p":-0.2},{"t":71.8,"p":0.25},{"t":72.1,"p":-0.18},{"t":72.4,"p":0.12},{"t":72.7,"p":-0.1},{"t":73,"p":0.08},{"t":73.3,"p":-0.1},{"t":73.6,"p":0.1},{"t":74,"p":-0.08},{"t":74.4,"p":0.08},{"t":74.8,"p":-0.1},{"t":75.2,"p":0.07},{"t":75.6,"p":-0.06},{"t":76,"p":0.09},{"t":76.4,"p":-0.08},{"t":76.8,"p":0.05},{"t":77.2,"p":-0.07},{"t":77.6,"p":0.06},{"t":78,"p":-0.05},{"t":78.4,"p":0.07},{"t":78.8,"p":-0.08},{"t":79.2,"p":0.05},{"t":79.6,"p":-0.05},{"t":80,"p":0.07},{"t":80.4,"p":-0.06},{"t":80.8,"p":0.04},{"t":81.2,"p":-0.08},{"t":81.6,"p":0.05},{"t":82,"p":-0.05},{"t":82.4,"p":0.06},{"t":82.8,"p":-0.07},{"t":83.2,"p":0.04},{"t":83.6,"p":-0.06},{"t":84,"p":0.05},{"t":84.4,"p":-0.07},{"t":84.8,"p":0.04},{"t":85,"p":0}],
"disp":[{"t":35,"d":0.02},{"t":35.3,"d":-0.03},{"t":35.6,"d":0.02},{"t":35.9,"d":-0.04},{"t":36.2,"d":0.03},{"t":36.5,"d":-0.02},{"t":36.8,"d":0.03},{"t":37.1,"d":-0.03},{"t":37.4,"d":0.02},{"t":37.7,"d":-0.02},{"t":38,"d":0.03},{"t":38.3,"d":-0.03},{"t":38.6,"d":0.01},{"t":38.9,"d":-0.02},{"t":39.2,"d":0.02},{"t":39.5,"d":-0.02},{"t":39.8,"d":0.03},{"t":40.1,"d":-0.03},{"t":40.4,"d":0.02},{"t":40.7,"d":-0.03},{"t":41,"d":0.03},{"t":41.3,"d":-0.02},{"t":41.6,"d":0.04},{"t":41.9,"d":-0.04},{"t":42.2,"d":0.02},{"t":42.5,"d":-0.03},{"t":42.8,"d":0.05},{"t":43.1,"d":-0.03},{"t":43.4,"d":0.02},{"t":43.7,"d":-0.04},{"t":44,"d":0.02},{"t":44.3,"d":0.06},{"t":44.6,"d":-0.04},{"t":44.9,"d":0.02},{"t":45.2,"d":-0.02},{"t":45.5,"d":0.03},{"t":45.8,"d":-0.03},{"t":46.1,"d":0.08},{"t":46.4,"d":-0.05},{"t":46.7,"d":0.03},{"t":47,"d":-0.03},{"t":47.3,"d":0.03},{"t":47.6,"d":-0.03},{"t":47.9,"d":0.04},{"t":48.2,"d":-0.04},{"t":48.5,"d":0.05},{"t":48.8,"d":-0.05},{"t":49.1,"d":0.06},{"t":49.4,"d":-0.05},{"t":49.7,"d":0.06},{"t":50,"d":-0.06},{"t":50.3,"d":0.07},{"t":50.6,"d":-0.05},{"t":50.96,"d":-0.02},{"t":51.12,"d":0},{"t":51.34,"d":0.02},{"t":51.49,"d":-0.02},{"t":51.72,"d":0.02},{"t":51.95,"d":-0.03},{"t":52.18,"d":0.03},{"t":52.36,"d":-0.03},{"t":52.55,"d":0.02},{"t":52.71,"d":-0.01},{"t":52.86,"d":0.02},{"t":53.01,"d":-0.03},{"t":53.16,"d":0.03},{"t":53.36,"d":-0.02},{"t":53.54,"d":0.03},{"t":53.74,"d":-0.02},{"t":53.92,"d":0},{"t":54.12,"d":0.04},{"t":54.3,"d":-0.02},{"t":54.52,"d":-0.05},{"t":54.68,"d":0.06},{"t":54.9,"d":0.06},{"t":55.13,"d":-0.12},{"t":55.33,"d":0.15},{"t":55.51,"d":-0.11},{"t":55.69,"d":0.02},{"t":55.78,"d":-0.06},{"t":55.93,"d":0.19},{"t":56.12,"d":-0.11},{"t":56.3,"d":-0.22},{"t":56.49,"d":0.41},{"t":56.68,"d":-0.27},{"t":56.84,"d":0.37},{"t":56.99,"d":-1.02},{"t":57.18,"d":0.66},{"t":57.36,"d":-0.57},{"t":57.48,"d":0.67},{"t":57.66,"d":-0.75},{"t":57.81,"d":0.77},{"t":57.98,"d":-0.68},{"t":58.13,"d":0.53},{"t":58.3,"d":-0.64},{"t":58.45,"d":0.59},{"t":58.62,"d":-0.5},{"t":58.77,"d":0.48},{"t":58.93,"d":-0.44},{"t":59.07,"d":0.46},{"t":59.24,"d":-0.37},{"t":59.39,"d":0.49},{"t":59.54,"d":-0.49},{"t":59.71,"d":0.45},{"t":59.86,"d":-0.44},{"t":60.01,"d":0.43},{"t":60.16,"d":-0.36},{"t":60.33,"d":0.3},{"t":60.49,"d":-0.3},{"t":60.63,"d":0.21},{"t":60.81,"d":-0.16},{"t":60.96,"d":0.12},{"t":61.15,"d":-0.07},{"t":61.34,"d":0.07},{"t":61.49,"d":-0.06},{"t":61.69,"d":0.13},{"t":61.87,"d":-0.05},{"t":62.1,"d":-0.02},{"t":62.33,"d":0},{"t":62.43,"d":0.08},{"t":62.6,"d":-0.05},{"t":62.75,"d":0.08},{"t":62.9,"d":-0.15},{"t":63.05,"d":0.15},{"t":63.2,"d":-0.15},{"t":63.39,"d":0.13},{"t":63.54,"d":-0.15},{"t":63.69,"d":0.19},{"t":63.84,"d":-0.18},{"t":63.99,"d":0.15},{"t":64.15,"d":-0.16},{"t":64.3,"d":0.16},{"t":64.45,"d":-0.14},{"t":64.63,"d":0.13},{"t":64.78,"d":-0.08},{"t":64.93,"d":0.09},{"t":65.13,"d":-0.07},{"t":65.3,"d":0.04},{"t":65.43,"d":0},{"t":65.6,"d":0.07},{"t":65.77,"d":-0.05},{"t":65.92,"d":0.02},{"t":66.12,"d":-0.02},{"t":66.34,"d":0.02},{"t":66.5,"d":-0.03},{"t":66.75,"d":0.05},{"t":66.95,"d":-0.03},{"t":67.07,"d":0.06},{"t":67.33,"d":-0.04},{"t":67.43,"d":0.05},{"t":67.59,"d":-0.04},{"t":67.75,"d":0.05},{"t":67.96,"d":-0.02},{"t":68.16,"d":0},{"t":68.39,"d":0.02},{"t":68.69,"d":0},{"t":69.07,"d":-0.02},{"t":69.3,"d":0.03},{"t":69.6,"d":-0.03},{"t":70,"d":0.07},{"t":70.3,"d":-0.07},{"t":70.6,"d":0.09},{"t":70.9,"d":-0.08},{"t":71.2,"d":0.1},{"t":71.5,"d":-0.09},{"t":71.8,"d":0.1},{"t":72.1,"d":-0.08},{"t":72.4,"d":0.09},{"t":72.7,"d":-0.06},{"t":73,"d":0.08},{"t":73.3,"d":-0.05},{"t":73.6,"d":0.06},{"t":73.9,"d":-0.05},{"t":74.2,"d":0.04},{"t":74.5,"d":-0.04},{"t":74.8,"d":0.05},{"t":75.1,"d":-0.04},{"t":75.4,"d":0.05},{"t":75.7,"d":-0.05},{"t":76,"d":0.06},{"t":76.3,"d":-0.05},{"t":76.6,"d":0.06},{"t":76.9,"d":-0.04},{"t":77.2,"d":0.03},{"t":77.5,"d":-0.02},{"t":77.8,"d":0.02},{"t":78.1,"d":-0.03},{"t":78.4,"d":0.05},{"t":78.7,"d":-0.04},{"t":79,"d":0.05},{"t":79.3,"d":-0.03},{"t":79.6,"d":0.02},{"t":79.9,"d":-0.03},{"t":80.2,"d":0.03},{"t":80.5,"d":-0.02},{"t":80.8,"d":0.02},{"t":81.1,"d":-0.03},{"t":81.4,"d":0.03},{"t":81.7,"d":-0.04},{"t":82,"d":0.03},{"t":82.3,"d":-0.02},{"t":82.6,"d":0.02},{"t":82.9,"d":-0.03},{"t":83.2,"d":0.03},{"t":83.5,"d":-0.02},{"t":83.8,"d":0.03},{"t":84.1,"d":-0.04},{"t":84.4,"d":0.05},{"t":84.7,"d":-0.03},{"t":85,"d":0.04}],
"traj_e":[{"seg":1.125,"time":1.125,"x":-0.0021,"y":-0.0001},{"seg":1.125,"time":1.14,"x":0.0001,"y":0.0016},{"seg":1.125,"time":1.15,"x":0.0017,"y":0.0025},{"seg":1.15,"time":1.15,"x":0.0017,"y":0.0025},{"seg":1.15,"time":1.16,"x":0.0039,"y":0.0023},{"seg":1.15,"time":1.17,"x":0.0047,"y":0.0016},{"seg":1.15,"time":1.175,"x":0.0042,"y":0.0008},{"seg":1.175,"time":1.175,"x":0.0042,"y":0.0008},{"seg":1.175,"time":1.19,"x":0.0017,"y":-0.0016},{"seg":1.175,"time":1.2,"x":-0.0023,"y":-0.0037},{"seg":1.2,"time":1.2,"x":-0.0023,"y":-0.0037},{"seg":1.2,"time":1.207,"x":-0.0043,"y":-0.0041},{"seg":1.2,"time":1.215,"x":-0.0062,"y":-0.0035},{"seg":1.2,"time":1.225,"x":-0.0068,"y":-0.0015},{"seg":1.225,"time":1.225,"x":-0.0068,"y":-0.0015},{"seg":1.225,"time":1.232,"x":-0.0057,"y":0.0006},{"seg":1.225,"time":1.241,"x":-0.0027,"y":0.003},{"seg":1.225,"time":1.25,"x":0.0026,"y":0.0052},{"seg":1.25,"time":1.25,"x":0.0026,"y":0.0052},{"seg":1.25,"time":1.257,"x":0.0055,"y":0.0059},{"seg":1.25,"time":1.265,"x":0.0082,"y":0.0055},{"seg":1.25,"time":1.272,"x":0.0097,"y":0.0041},{"seg":1.25,"time":1.275,"x":0.0098,"y":0.0025},{"seg":1.275,"time":1.275,"x":0.0098,"y":0.0025},{"seg":1.275,"time":1.281,"x":0.0088,"y":0.0002},{"seg":1.275,"time":1.288,"x":0.0055,"y":-0.0023},{"seg":1.275,"time":1.294,"x":0.0017,"y":-0.0047},{"seg":1.275,"time":1.3,"x":-0.0028,"y":-0.0068},{"seg":1.3,"time":1.3,"x":-0.0028,"y":-0.0068},{"seg":1.3,"time":1.306,"x":-0.0059,"y":-0.0076},{"seg":1.3,"time":1.312,"x":-0.0092,"y":-0.0078},{"seg":1.3,"time":1.318,"x":-0.0119,"y":-0.007},{"seg":1.3,"time":1.322,"x":-0.0135,"y":-0.0055},{"seg":1.3,"time":1.325,"x":-0.0133,"y":-0.0036},{"seg":1.325,"time":1.325,"x":-0.0133,"y":-0.0036},{"seg":1.325,"time":1.33,"x":-0.0119,"y":-0.0012},{"seg":1.325,"time":1.335,"x":-0.0086,"y":0.002},{"seg":1.325,"time":1.34,"x":-0.0048,"y":0.0045},{"seg":1.325,"time":1.346,"x":-0.001,"y":0.0071},{"seg":1.325,"time":1.35,"x":0.0026,"y":0.0085},{"seg":1.35,"time":1.35,"x":0.0026,"y":0.0085},{"seg":1.35,"time":1.355,"x":0.006,"y":0.0094},{"seg":1.35,"time":1.36,"x":0.0093,"y":0.0097},{"seg":1.35,"time":1.366,"x":0.0131,"y":0.0091},{"seg":1.35,"time":1.371,"x":0.0155,"y":0.0076},{"seg":1.35,"time":1.375,"x":0.0165,"y":0.0052},{"seg":1.375,"time":1.375,"x":0.0165,"y":0.0052},{"seg":1.375,"time":1.38,"x":0.0158,"y":0.0027},{"seg":1.375,"time":1.385,"x":0.0136,"y":0.0002},{"seg":1.375,"time":1.39,"x":0.0104,"y":-0.0026},{"seg":1.375,"time":1.394,"x":0.006,"y":-0.0055},{"seg":1.375,"time":1.397,"x":0.0017,"y":-0.0079},{"seg":1.375,"time":1.4,"x":-0.002,"y":-0.0096},{"seg":1.4,"time":1.4,"x":-0.002,"y":-0.0096},{"seg":1.4,"time":1.405,"x":-0.007,"y":-0.0109},{"seg":1.4,"time":1.41,"x":-0.0114,"y":-0.0114},{"seg":1.4,"time":1.415,"x":-0.0157,"y":-0.0109},{"seg":1.4,"time":1.42,"x":-0.0184,"y":-0.0095},{"seg":1.4,"time":1.425,"x":-0.0196,"y":-0.0068},{"seg":1.425,"time":1.425,"x":-0.0196,"y":-0.0068},{"seg":1.425,"time":1.43,"x":-0.0187,"y":-0.0044},{"seg":1.425,"time":1.435,"x":-0.0157,"y":-0.0001},{"seg":1.425,"time":1.44,"x":-0.0119,"y":0.003},{"seg":1.425,"time":1.444,"x":-0.007,"y":0.0062},{"seg":1.425,"time":1.447,"x":-0.0027,"y":0.0087},{"seg":1.425,"time":1.45,"x":0.0007,"y":0.0101},{"seg":1.45,"time":1.45,"x":0.0007,"y":0.0101},{"seg":1.45,"time":1.454,"x":0.0049,"y":0.0114},{"seg":1.45,"time":1.458,"x":0.0087,"y":0.012},{"seg":1.45,"time":1.461,"x":0.0115,"y":0.0121},{"seg":1.45,"time":1.465,"x":0.0153,"y":0.0117},{"seg":1.45,"time":1.469,"x":0.0185,"y":0.0107},{"seg":1.45,"time":1.473,"x":0.0207,"y":0.0092},{"seg":1.45,"time":1.475,"x":0.0214,"y":0.0084},{"seg":1.475,"time":1.475,"x":0.0214,"y":0.0084},{"seg":1.475,"time":1.479,"x":0.0221,"y":0.0062},{"seg":1.475,"time":1.483,"x":0.021,"y":0.0034},{"seg":1.475,"time":1.487,"x":0.0185,"y":0.0002},{"seg":1.475,"time":1.491,"x":0.0153,"y":-0.0026},{"seg":1.475,"time":1.494,"x":0.0109,"y":-0.0051},{"seg":1.475,"time":1.497,"x":0.006,"y":-0.0072},{"seg":1.475,"time":1.5,"x":0.0009,"y":-0.0093}],
"dots_e":[{"time":0.05,"x":0.0015,"y":0.001},{"time":0.1,"x":0.0016,"y":0.0009},{"time":0.15,"x":0.0018,"y":0.0004},{"time":0.2,"x":0.00185,"y":-0.0001},{"time":0.25,"x":0.0017,"y":-0.0004},{"time":0.3,"x":-0.0016,"y":0.0008},{"time":0.35,"x":-0.0018,"y":0.0002},{"time":0.4,"x":-0.0012,"y":0.0009},{"time":0.5,"x":0.0005,"y":0.0008},{"time":0.6,"x":-0.0005,"y":-0.0006},{"time":0.7,"x":0.0004,"y":-0.0012},{"time":0.75,"x":0.0005,"y":-0.00125},{"time":0.8,"x":-0.0006,"y":0.0012},{"time":0.85,"x":-0.0008,"y":0.0008},{"time":0.9,"x":0.0001,"y":0.0006},{"time":0.95,"x":-0.0003,"y":0.0002},{"time":1,"x":-0.0004,"y":-0.0004},{"time":1.025,"x":0.0008,"y":0.0004},{"time":1.05,"x":0.001,"y":-0.0002},{"time":1.075,"x":0.0009,"y":-0.0008},{"time":1.1,"x":-0.0014,"y":-0.0013},{"time":1.125,"x":-0.0024,"y":-0.00014},{"time":1.15,"x":0.0017,"y":0.0025},{"time":1.175,"x":0.0042,"y":0.0008},{"time":1.2,"x":-0.0023,"y":-0.0037},{"time":1.225,"x":-0.0068,"y":-0.0015},{"time":1.25,"x":0.0026,"y":0.0052},{"time":1.275,"x":0.0098,"y":0.0025},{"time":1.3,"x":-0.0028,"y":-0.0068},{"time":1.325,"x":-0.0133,"y":-0.0036},{"time":1.35,"x":0.0026,"y":0.0085},{"time":1.375,"x":0.0165,"y":0.0052},{"time":1.4,"x":-0.002,"y":-0.0096},{"time":1.425,"x":-0.0196,"y":-0.0068},{"time":1.45,"x":0.0007,"y":0.0101},{"time":1.475,"x":0.0214,"y":0.0084},{"time":1.5,"x":0.0009,"y":-0.0093}],
"dots_f":[{"time":0,"x":0,"y":0.001},{"time":0.05,"x":-0.004,"y":-0.019},{"time":0.075,"x":-0.009,"y":-0.04},{"time":0.1,"x":-0.014,"y":-0.056},{"time":0.125,"x":-0.019,"y":-0.066},{"time":0.15,"x":-0.022,"y":-0.071},{"time":0.175,"x":-0.026,"y":-0.073},{"time":0.2,"x":-0.028,"y":-0.066},{"time":0.225,"x":-0.03,"y":-0.048},{"time":0.25,"x":-0.028,"y":-0.027},{"time":0.275,"x":-0.024,"y":-0.001},{"time":0.3,"x":-0.018,"y":0.026},{"time":0.325,"x":-0.01,"y":0.055},{"time":0.35,"x":0.001,"y":0.083},{"time":0.375,"x":0.011,"y":0.107},{"time":0.4,"x":0.022,"y":0.126},{"time":0.425,"x":0.033,"y":0.139},{"time":0.45,"x":0.043,"y":0.141},{"time":0.475,"x":0.055,"y":0.119},{"time":0.5,"x":0.057,"y":0.093},{"time":0.525,"x":0.055,"y":0.057},{"time":0.55,"x":0.05,"y":0.019},{"time":0.575,"x":0.043,"y":-0.025},{"time":0.6,"x":0.033,"y":-0.07},{"time":0.625,"x":0.021,"y":-0.111},{"time":0.65,"x":0.006,"y":-0.149},{"time":0.675,"x":-0.009,"y":-0.18},{"time":0.7,"x":-0.024,"y":-0.202},{"time":0.725,"x":-0.04,"y":-0.213},{"time":0.75,"x":-0.051,"y":-0.211},{"time":0.775,"x":-0.061,"y":-0.198},{"time":0.8,"x":-0.068,"y":-0.175},{"time":0.825,"x":-0.072,"y":-0.141},{"time":0.85,"x":-0.071,"y":-0.099},{"time":0.875,"x":-0.067,"y":-0.051},{"time":0.9,"x":-0.06,"y":-0.001},{"time":0.925,"x":-0.051,"y":0.05},{"time":0.95,"x":-0.04,"y":0.097},{"time":0.975,"x":-0.028,"y":0.139},{"time":1,"x":-0.015,"y":0.173},{"time":1.025,"x":-0.002,"y":0.197},{"time":1.05,"x":0.01,"y":0.214},{"time":1.075,"x":0.022,"y":0.221},{"time":1.1,"x":0.033,"y":0.217},{"time":1.125,"x":0.044,"y":0.206},{"time":1.15,"x":0.052,"y":0.189},{"time":1.175,"x":0.059,"y":0.168},{"time":1.2,"x":0.065,"y":0.141},{"time":1.225,"x":0.069,"y":0.11},{"time":1.25,"x":0.07,"y":0.075},{"time":1.275,"x":0.07,"y":0.036},{"time":1.3,"x":0.065,"y":-0.006},{"time":1.325,"x":0.058,"y":-0.052},{"time":1.35,"x":0.048,"y":-0.1},{"time":1.375,"x":0.033,"y":-0.147},{"time":1.4,"x":0.017,"y":-0.193},{"time":1.425,"x":-0.001,"y":-0.233},{"time":1.45,"x":-0.019,"y":-0.263},{"time":1.475,"x":-0.038,"y":-0.281},{"time":1.5,"x":-0.054,"y":-0.284}]},
"hconcat":[{"bounds":"flush","spacing":35,"resolve":{"scale":{"color":"independent"}},"vconcat":[
{"width":1098,"height":210,"encoding":{"x":{"field":"t","type":"quantitative","scale":{"domain":[35.05,84.95]},"axis":{"values":[45,60,75],"labels":false,"title":null}},"y":{"field":"p","type":"quantitative","scale":{"domain":[-4,8.5]},"axis":{"values":[-4,0,4],"title":["Pressure","[Pa]"],"titleX":-139,"titleBaseline":"middle"}}},"layer":[
{"data":{"name":"pres"},"mark":{"type":"line","color":"black","strokeWidth":3,"clip":true}},
{"data":{"values":[{"t":35.65,"t2":37.6,"p":5.65,"p2":7.9}]},"mark":{"type":"rect","fill":"white","stroke":"black","strokeWidth":2},"encoding":{"x2":{"field":"t2"},"y2":{"field":"p2"}}},
{"data":{"values":[{"t":36.6,"p":6.78,"label":"a)"}]},"mark":{"type":"text","fontSize":24,"fontWeight":"bold"},"encoding":{"text":{"field":"label"}}},
{"data":{"values":[{"t":72.6,"p":6.7,"label":"TA.Z43A.EP.BDF"}]},"mark":{"type":"text","fontSize":33,"align":"left"},"encoding":{"text":{"field":"label"}}}]},
{"width":1098,"height":210,"encoding":{"x":{"field":"t","type":"quantitative","scale":{"domain":[35.05,84.95]},"axis":{"values":[45,60,75],"labels":false,"title":null}},"y":{"field":"d","type":"quantitative","scale":{"domain":[-1.11,0.853]},"axis":{"values":[-0.8,0,0.8],"format":".1f","title":["Displacement","[µm]"],"titleX":-139,"titleBaseline":"middle"}}},"layer":[
{"data":{"name":"disp"},"mark":{"type":"line","color":"black","strokeWidth":3,"clip":true}},
{"data":{"values":[{"t":35.65,"t2":37.6,"d":0.414,"d2":0.763}]},"mark":{"type":"rect","fill":"white","stroke":"black","strokeWidth":2},"encoding":{"x2":{"field":"t2"},"y2":{"field":"d2"}}},
{"data":{"values":[{"t":36.6,"d":0.585,"label":"b)"}]},"mark":{"type":"text","fontSize":24,"fontWeight":"bold"},"encoding":{"text":{"field":"label"}}},
{"data":{"values":[{"t":72.6,"d":0.575,"label":"TA.Z43A..BHZ"}]},"mark":{"type":"text","fontSize":33,"align":"left"},"encoding":{"text":{"field":"label"}}}]},
{"width":1098,"height":280,"encoding":{"x":{"field":"t","type":"quantitative","scale":{"domain":[35.05,84.95]},"axis":{"values":[45,60,75],"labels":false,"title":null,"grid":true,"zindex":1}},"y":{"field":"f","type":"quantitative","scale":{"domain":[1,18]},"axis":{"values":[5,10,15],"grid":true,"zindex":1,"title":["Frequency","[Hz]"],"titleX":-139,"titleBaseline":"middle"}}},"layer":[
{"data":{"name":"coh"},"mark":{"type":"rect","width":22.5,"height":7,"clip":true},"encoding":{"color":{"field":"v","type":"quantitative","title":null,"scale":{"scheme":"magma","reverse":true,"domain":[0.4,1]},"legend":{"type":"gradient","values":[0.4,0.6,0.8,1],"format":".1f","gradientLength":280,"gradientThickness":31,"offset":15}}}},
{"data":{"values":[{"t":35.65,"t2":37.5,"f":14.74,"f2":17}]},"mark":{"type":"rect","fill":"white","stroke":"black","strokeWidth":2},"encoding":{"x2":{"field":"t2"},"y2":{"field":"f2"}}},
{"data":{"values":[{"t":36.55,"f":15.87,"label":"c)"}]},"mark":{"type":"text","fontSize":24,"fontWeight":"bold"},"encoding":{"text":{"field":"label"}}},
{"data":{"values":[{"t":91,"f":9.5,"label":"Mag² Coherence"}]},"mark":{"type":"text","fontSize":33,"angle":270},"encoding":{"text":{"field":"label"}}}]},
{"width":1098,"height":280,"encoding":{"x":{"field":"t","type":"quantitative","scale":{"domain":[35.05,84.95]},"axis":{"values":[45,60,75],"grid":true,"zindex":1,"title":"UTC Time","labelExpr":"{45:'04:37:45',60:'04:38:00',75:'04:38:15'}[datum.value]"}},"y":{"field":"f","type":"quantitative","scale":{"domain":[1,18]},"axis":{"values":[5,10,15],"grid":true,"zindex":1,"title":["Frequency","[Hz]"],"titleX":-139,"titleBaseline":"middle"}}},"layer":[
{"data":{"name":"nip"},"mark":{"type":"rect","width":22.5,"height":7,"clip":true},"encoding":{"color":{"field":"v","type":"quantitative","title":null,"scale":{"domain":[-1,0,1],"range":["#2a7dff","#ffffff","#e8502f"],"interpolate":"rgb"},"legend":{"type":"gradient","values":[-1,0,1],"format":".0f","gradientLength":280,"gradientThickness":31,"offset":15}}}},
{"data":{"values":[{"t":35.65,"t2":37.6,"f":14.73,"f2":17.03}]},"mark":{"type":"rect","fill":"white","stroke":"black","strokeWidth":2},"encoding":{"x2":{"field":"t2"},"y2":{"field":"f2"}}},
{"data":{"values":[{"t":36.6,"f":15.87,"label":"d)"}]},"mark":{"type":"text","fontSize":24,"fontWeight":"bold"},"encoding":{"text":{"field":"label"}}},
{"data":{"values":[{"t":55.5,"t2":57,"f":9,"f2":11},{"t":55.5,"t2":57,"f":1,"f2":2}]},"mark":{"type":"rect","fillOpacity":0,"stroke":"black","strokeWidth":3},"encoding":{"x2":{"field":"t2"},"y2":{"field":"f2"}}},
{"data":{"values":[{"t":36.4,"f":-3.4,"label":"2012-10-16"}]},"mark":{"type":"text","fontSize":33},"encoding":{"text":{"field":"label"}}},
{"data":{"values":[{"t":90.95,"f":9.5,"label":"NIP"}]},"mark":{"type":"text","fontSize":33,"angle":270},"encoding":{"text":{"field":"label"}}}]}
]},
{"bounds":"flush","spacing":52,"resolve":{"scale":{"color":"shared","stroke":"shared"}},"vconcat":[
{"width":521,"height":521,"encoding":{"x":{"field":"x","type":"quantitative","scale":{"domain":[-0.024,0.024]},"axis":{"values":[-0.02,-0.01,0,0.01,0.02],"format":".2f","grid":true,"title":null}},"y":{"field":"y","type":"quantitative","scale":{"domain":[-0.024,0.024]},"axis":{"values":[-0.02,-0.01,0,0.01,0.02],"format":".2f","grid":true,"title":"Vertical Displacement [µm]"}}},"layer":[
{"data":{"name":"traj_e"},"mark":{"type":"line","strokeWidth":7,"strokeCap":"round","interpolate":"catmull-rom"},"encoding":{"order":{"field":"time"},"stroke":{"field":"seg","type":"quantitative","scale":{"scheme":"viridis","reverse":true,"domain":[0,1.5]},"legend":null}}},
{"data":{"name":"dots_e"},"mark":{"type":"circle","size":200,"opacity":1},"encoding":{"color":{"field":"time","type":"quantitative","title":null,"scale":{"scheme":"viridis","reverse":true,"domain":[0,1.5]},"legend":{"type":"gradient","values":[0,0.25,0.5,0.75,1,1.25,1.5],"format":".2f","gradientLength":1093,"gradientThickness":55,"offset":-178}}}},
{"data":{"values":[{"i":1,"x":-0.0179,"y":0.0042},{"i":2,"x":-0.0146,"y":0.0069},{"i":3,"x":-0.0108,"y":0.0096},{"i":4,"x":-0.007,"y":0.0117},{"i":5,"x":-0.0032,"y":0.0135},{"i":6,"x":0.0006,"y":0.0147},{"i":7,"x":0.0044,"y":0.0155},{"i":8,"x":0.0077,"y":0.0159}]},"mark":{"type":"line","color":"black","strokeWidth":3,"interpolate":"catmull-rom"},"encoding":{"order":{"field":"i"}}},
{"data":{"values":[{"i":1,"x":0.0178,"y":-0.0041},{"i":2,"x":0.0147,"y":-0.0065},{"i":3,"x":0.0115,"y":-0.0085},{"i":4,"x":0.0077,"y":-0.0104},{"i":5,"x":0.0039,"y":-0.0122},{"i":6,"x":-0.0005,"y":-0.0136},{"i":7,"x":-0.0048,"y":-0.0145},{"i":8,"x":-0.0078,"y":-0.0148}]},"mark":{"type":"line","color":"black","strokeWidth":3,"interpolate":"catmull-rom"},"encoding":{"order":{"field":"i"}}},
{"data":{"values":[{"x":0.0085,"y":0.0159}]},"mark":{"type":"point","shape":"triangle-right","filled":true,"color":"black","size":600,"angle":-6,"opacity":1}},
{"data":{"values":[{"x":-0.0089,"y":-0.0149}]},"mark":{"type":"point","shape":"triangle-right","filled":true,"color":"black","size":600,"angle":176,"opacity":1}},
{"data":{"values":[{"x":0.0171,"y":0.0213,"label":"9-11 Hz"}]},"mark":{"type":"text","fontSize":28.5},"encoding":{"text":{"field":"label"}}},
{"data":{"values":[{"x":-0.02294,"x_end":-0.01859,"y":0.0193,"y_end":0.02324}]},"mark":{"type":"rect","fill":"white","stroke":"black","strokeWidth":2},"encoding":{"x2":{"field":"x_end"},"y2":{"field":"y_end"}}},
{"data":{"values":[{"x":-0.0208,"y":0.0213,"label":"e)"}]},"mark":{"type":"text","fontSize":25,"fontWeight":"bold"},"encoding":{"text":{"field":"label"}}},
{"data":{"values":[{"x":0.0406,"y":-0.0263,"label":"Time [s]"}]},"mark":{"type":"text","fontSize":33,"angle":270},"encoding":{"text":{"field":"label"}}}]},
{"width":521,"height":520,"encoding":{"x":{"field":"x","type":"quantitative","scale":{"domain":[-0.314,0.314]},"axis":{"values":[-0.2,0,0.2],"format":".1f","grid":true,"title":"Radial Displacement [µm]"}},"y":{"field":"y","type":"quantitative","scale":{"domain":[-0.314,0.314]},"axis":{"values":[-0.3,-0.2,-0.1,0,0.1,0.2,0.3],"format":".1f","grid":true,"title":"Vertical Displacement [µm]"}}},"layer":[
{"data":{"name":"dots_f"},"transform":[{"window":[{"op":"lead","field":"x","as":"x_next"},{"op":"lead","field":"y","as":"y_next"}],"sort":[{"field":"time"}]},{"filter":"datum.x_next != null"}],"mark":{"type":"rule","strokeWidth":6,"strokeCap":"round"},"encoding":{"x2":{"field":"x_next"},"y2":{"field":"y_next"},"stroke":{"field":"time","type":"quantitative","scale":{"scheme":"viridis","reverse":true,"domain":[0,1.5]},"legend":null}}},
{"data":{"name":"dots_f"},"mark":{"type":"circle","size":200,"opacity":1},"encoding":{"color":{"field":"time","type":"quantitative","title":null,"scale":{"scheme":"viridis","reverse":true,"domain":[0,1.5]},"legend":{"type":"gradient","values":[0,0.25,0.5,0.75,1,1.25,1.5],"format":".2f","gradientLength":1093,"gradientThickness":55,"offset":-178}}}},
{"data":{"values":[{"i":1,"x":-0.131,"y":-0.177},{"i":2,"x":-0.136,"y":-0.108},{"i":3,"x":-0.134,"y":-0.039},{"i":4,"x":-0.127,"y":0.03},{"i":5,"x":-0.113,"y":0.094},{"i":6,"x":-0.095,"y":0.148},{"i":7,"x":-0.083,"y":0.176}]},"mark":{"type":"line","color":"black","strokeWidth":3,"interpolate":"catmull-rom"},"encoding":{"order":{"field":"i"}}},
{"data":{"values":[{"i":1,"x":0.13,"y":0.138},{"i":2,"x":0.136,"y":0.065},{"i":3,"x":0.131,"y":-0.009},{"i":4,"x":0.12,"y":-0.083},{"i":5,"x":0.102,"y":-0.157},{"i":6,"x":0.084,"y":-0.209}]},"mark":{"type":"line","color":"black","strokeWidth":3,"interpolate":"catmull-rom"},"encoding":{"order":{"field":"i"}}},
{"data":{"values":[{"x":-0.079,"y":0.183}]},"mark":{"type":"point","shape":"triangle-right","filled":true,"color":"black","size":600,"angle":-63,"opacity":1}},
{"data":{"values":[{"x":0.077,"y":-0.226}]},"mark":{"type":"point","shape":"triangle-right","filled":true,"color":"black","size":600,"angle":116,"opacity":1}},
{"data":{"values":[{"x":0.213,"y":0.281,"label":"1-2 Hz"}]},"mark":{"type":"text","fontSize":28.5},"encoding":{"text":{"field":"label"}}},
{"data":{"values":[{"x":-0.2995,"x_end":-0.25,"y":0.252,"y_end":0.303}]},"mark":{"type":"rect","fill":"white","stroke":"black","strokeWidth":2},"encoding":{"x2":{"field":"x_end"},"y2":{"field":"y_end"}}},
{"data":{"values":[{"x":-0.2747,"y":0.2775,"label":"f)"}]},"mark":{"type":"text","fontSize":25,"fontWeight":"bold"},"encoding":{"text":{"field":"label"}}}]}
]}]}
